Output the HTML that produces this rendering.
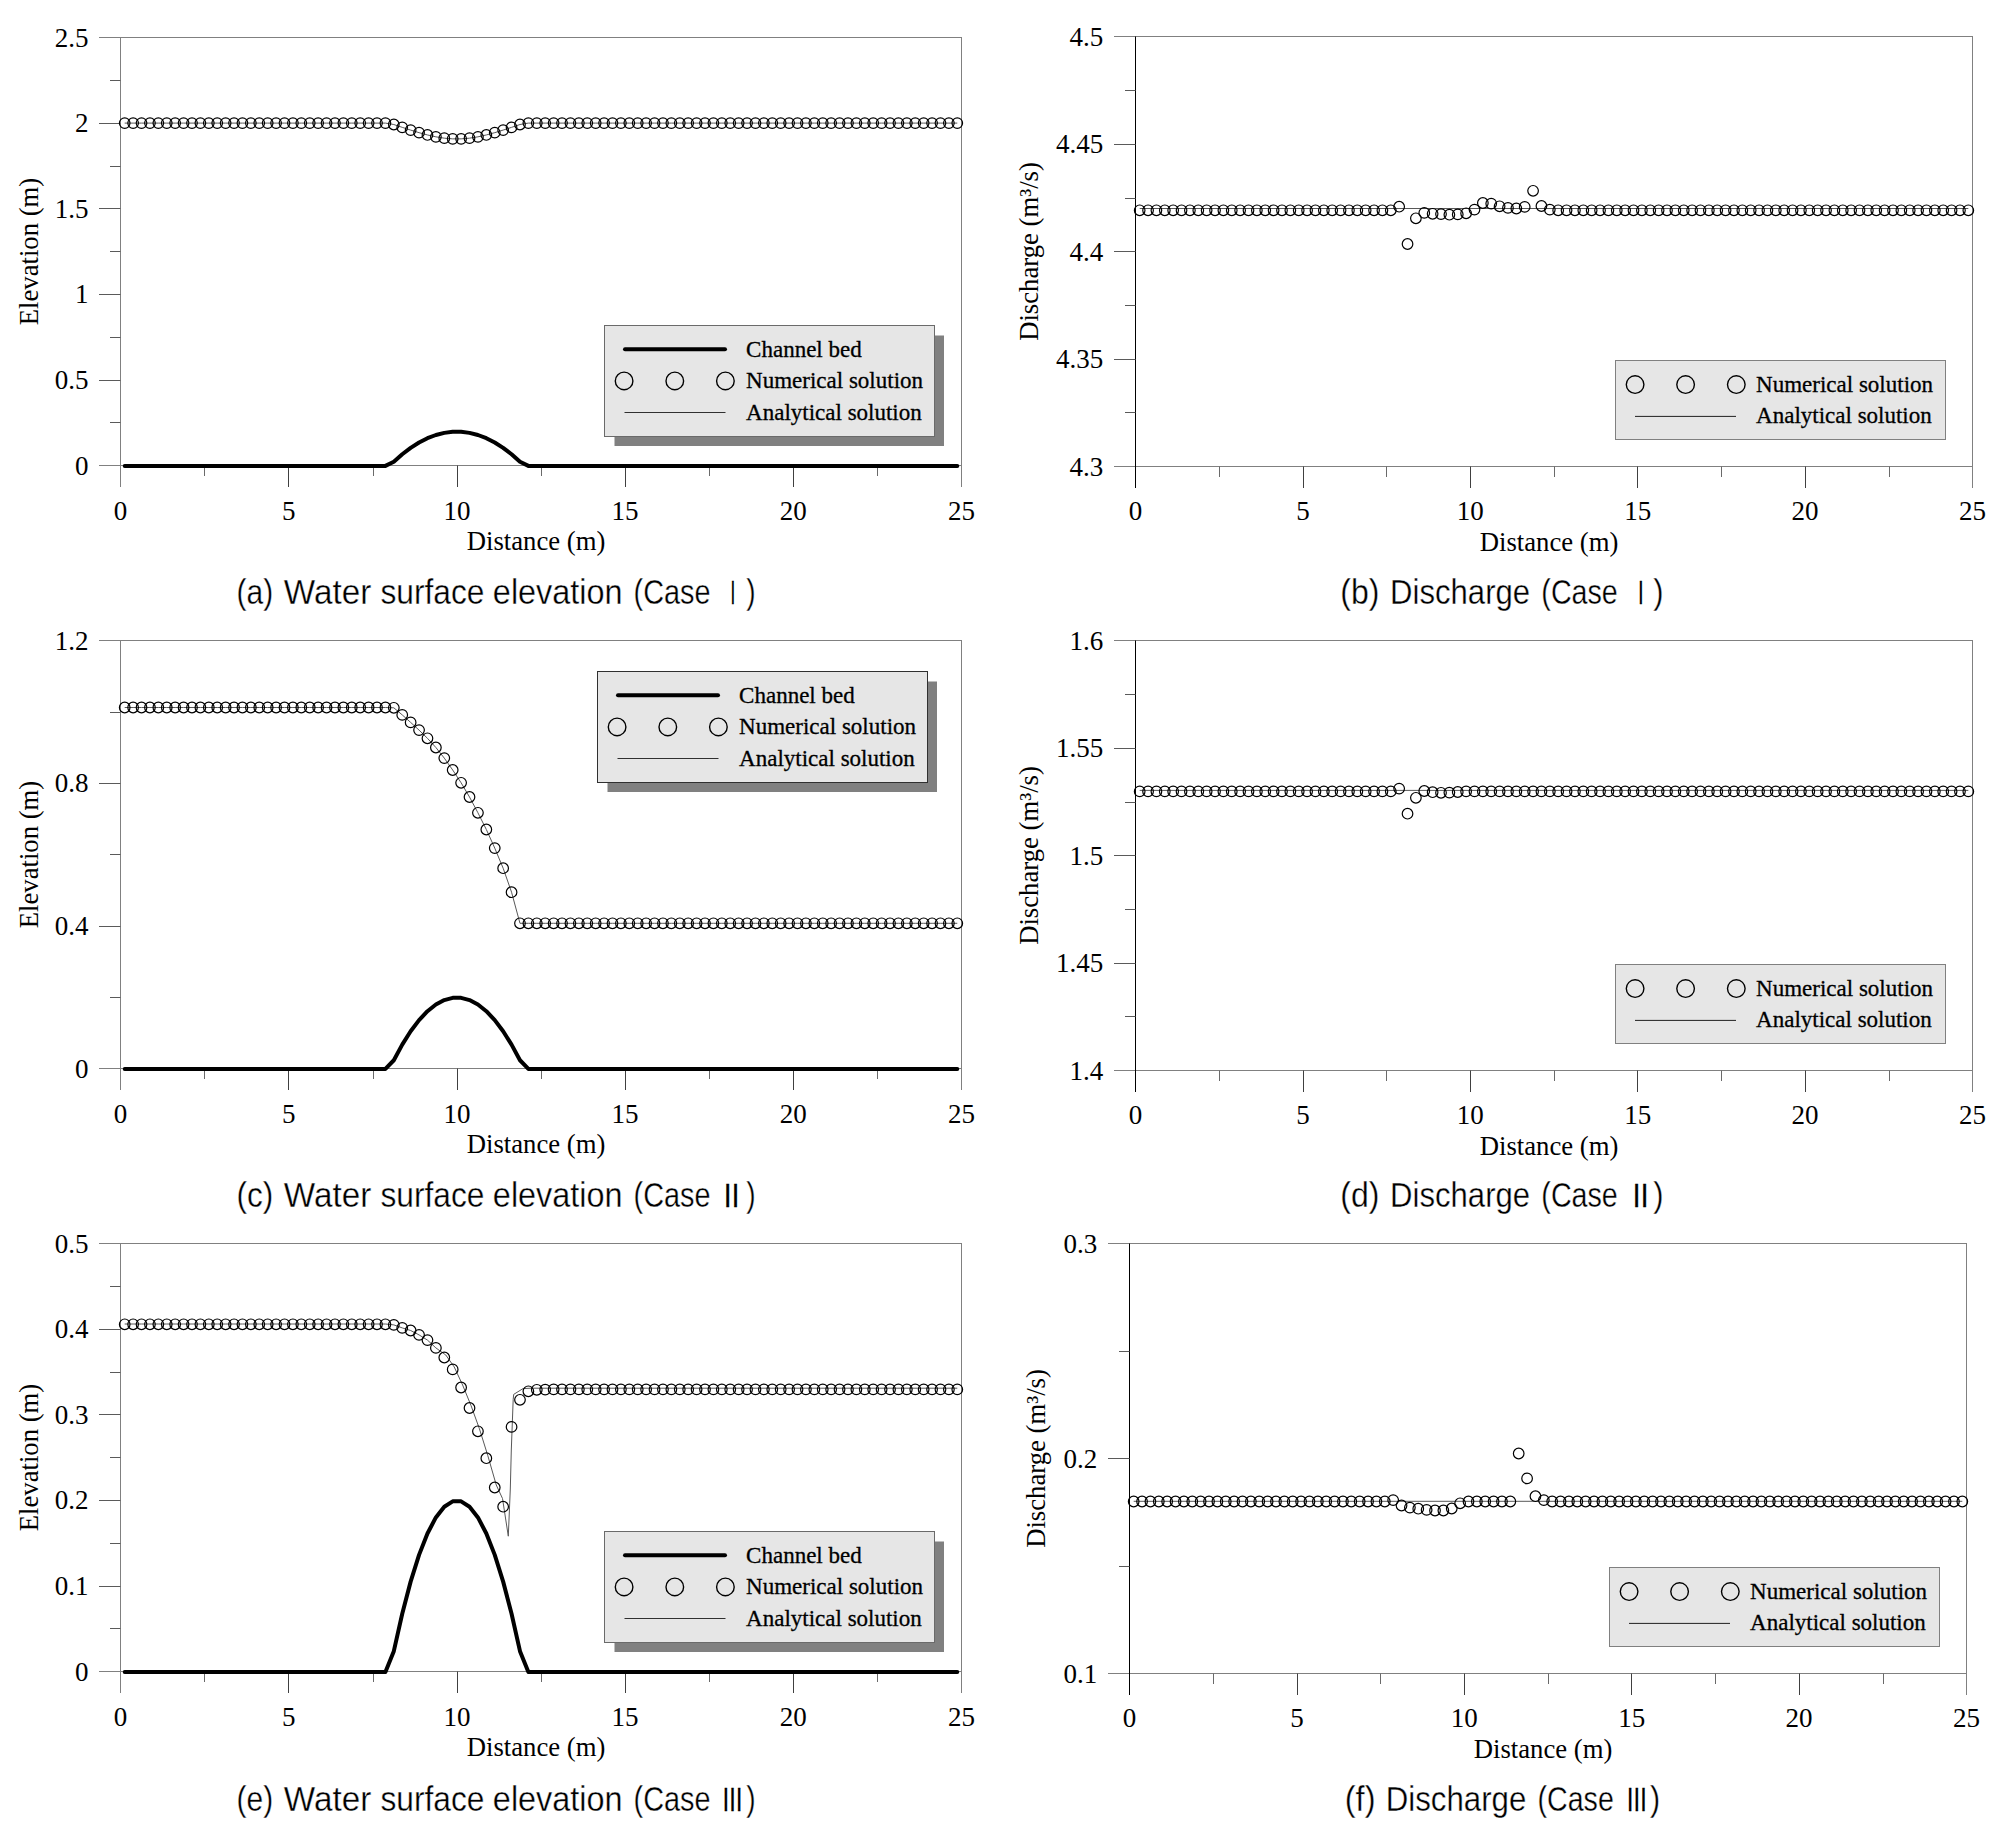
<!DOCTYPE html>
<html lang="en"><head><meta charset="utf-8"><title>Figure</title>
<style>html,body{margin:0;padding:0;background:#fff}svg text{fill:#000}</style></head>
<body>
<svg width="2008" height="1841" viewBox="0 0 2008 1841" style="display:block">
<rect width="2008" height="1841" fill="#fff"/>
<line x1="99" y1="37.5" x2="962" y2="37.5" stroke="#808080" stroke-width="1" />
<line x1="961.5" y1="37.5" x2="961.5" y2="487" stroke="#808080" stroke-width="1" />
<line x1="99" y1="465.5" x2="962" y2="465.5" stroke="#808080" stroke-width="1" />
<line x1="120.5" y1="37.5" x2="120.5" y2="487" stroke="#808080" stroke-width="1" />
<line x1="99" y1="380.5" x2="120.5" y2="380.5" stroke="#5a5a5a" stroke-width="1" />
<line x1="99" y1="294.5" x2="120.5" y2="294.5" stroke="#5a5a5a" stroke-width="1" />
<line x1="99" y1="208.5" x2="120.5" y2="208.5" stroke="#5a5a5a" stroke-width="1" />
<line x1="99" y1="123.5" x2="120.5" y2="123.5" stroke="#5a5a5a" stroke-width="1" />
<line x1="110" y1="422.5" x2="120.5" y2="422.5" stroke="#5a5a5a" stroke-width="1" />
<line x1="110" y1="337.5" x2="120.5" y2="337.5" stroke="#5a5a5a" stroke-width="1" />
<line x1="110" y1="251.5" x2="120.5" y2="251.5" stroke="#5a5a5a" stroke-width="1" />
<line x1="110" y1="166.5" x2="120.5" y2="166.5" stroke="#5a5a5a" stroke-width="1" />
<line x1="110" y1="80.5" x2="120.5" y2="80.5" stroke="#5a5a5a" stroke-width="1" />
<line x1="288.5" y1="465.5" x2="288.5" y2="487" stroke="#404040" stroke-width="1" />
<line x1="457.5" y1="465.5" x2="457.5" y2="487" stroke="#404040" stroke-width="1" />
<line x1="625.5" y1="465.5" x2="625.5" y2="487" stroke="#404040" stroke-width="1" />
<line x1="793.5" y1="465.5" x2="793.5" y2="487" stroke="#404040" stroke-width="1" />
<line x1="204.5" y1="465.5" x2="204.5" y2="476" stroke="#6a6a6a" stroke-width="1" />
<line x1="373.5" y1="465.5" x2="373.5" y2="476" stroke="#6a6a6a" stroke-width="1" />
<line x1="541.5" y1="465.5" x2="541.5" y2="476" stroke="#6a6a6a" stroke-width="1" />
<line x1="709.5" y1="465.5" x2="709.5" y2="476" stroke="#6a6a6a" stroke-width="1" />
<line x1="877.5" y1="465.5" x2="877.5" y2="476" stroke="#6a6a6a" stroke-width="1" />
<text x="88.4" y="474.5" font-size="27.0" text-anchor="end" font-family='"Liberation Serif", serif' >0</text>
<text x="88.4" y="388.9" font-size="27.0" text-anchor="end" font-family='"Liberation Serif", serif' >0.5</text>
<text x="88.4" y="303.3" font-size="27.0" text-anchor="end" font-family='"Liberation Serif", serif' >1</text>
<text x="88.4" y="217.7" font-size="27.0" text-anchor="end" font-family='"Liberation Serif", serif' >1.5</text>
<text x="88.4" y="132.1" font-size="27.0" text-anchor="end" font-family='"Liberation Serif", serif' >2</text>
<text x="88.4" y="46.5" font-size="27.0" text-anchor="end" font-family='"Liberation Serif", serif' >2.5</text>
<text x="120.5" y="520.3" font-size="27.0" text-anchor="middle" font-family='"Liberation Serif", serif' >0</text>
<text x="288.7" y="520.3" font-size="27.0" text-anchor="middle" font-family='"Liberation Serif", serif' >5</text>
<text x="456.9" y="520.3" font-size="27.0" text-anchor="middle" font-family='"Liberation Serif", serif' >10</text>
<text x="625.1" y="520.3" font-size="27.0" text-anchor="middle" font-family='"Liberation Serif", serif' >15</text>
<text x="793.3" y="520.3" font-size="27.0" text-anchor="middle" font-family='"Liberation Serif", serif' >20</text>
<text x="961.5" y="520.3" font-size="27.0" text-anchor="middle" font-family='"Liberation Serif", serif' >25</text>
<text x="536" y="550.3" font-size="26.7" text-anchor="middle" font-family='"Liberation Serif", serif' >Distance (m)</text>
<text transform="translate(37.8 251.5) rotate(-90)" font-size="26.7" text-anchor="middle" font-family='"Liberation Serif", serif'>Elevation (m)</text>
<polyline points="124.7,123.1 133.12,123.1 141.53,123.1 149.94,123.1 158.34,123.1 166.75,123.1 175.16,123.1 183.57,123.1 191.99,123.1 200.39,123.1 208.81,123.1 217.22,123.1 225.62,123.1 234.03,123.1 242.44,123.1 250.85,123.1 259.26,123.1 267.68,123.1 276.09,123.1 284.5,123.1 292.9,123.1 301.31,123.1 309.73,123.1 318.13,123.1 326.54,123.1 334.96,123.1 343.37,123.1 351.77,123.1 360.19,123.1 368.6,123.1 377,123.1 385.42,123.1 393.82,124.52 402.24,127.35 410.64,130.09 419.06,132.67 427.46,134.95 435.88,136.83 444.29,138.17 452.69,138.87 461.11,138.87 469.51,138.17 477.93,136.83 486.33,134.95 494.75,132.67 503.15,130.09 511.56,127.35 519.98,124.52 528.38,123.1 536.8,123.1 545.2,123.1 553.62,123.1 562.02,123.1 570.43,123.1 578.85,123.1 587.25,123.1 595.66,123.1 604.08,123.1 612.49,123.1 620.89,123.1 629.31,123.1 637.72,123.1 646.12,123.1 654.53,123.1 662.95,123.1 671.36,123.1 679.76,123.1 688.17,123.1 696.59,123.1 705,123.1 713.4,123.1 721.82,123.1 730.23,123.1 738.63,123.1 747.04,123.1 755.46,123.1 763.87,123.1 772.27,123.1 780.68,123.1 789.1,123.1 797.5,123.1 805.91,123.1 814.33,123.1 822.74,123.1 831.14,123.1 839.55,123.1 847.97,123.1 856.38,123.1 864.78,123.1 873.2,123.1 881.61,123.1 890.01,123.1 898.42,123.1 906.84,123.1 915.25,123.1 923.65,123.1 932.07,123.1 940.48,123.1 948.88,123.1 957.29,123.1" fill="none" stroke="#585858" stroke-width="1.0" />
<polyline points="124.7,465.9 133.12,465.9 141.53,465.9 149.94,465.9 158.34,465.9 166.75,465.9 175.16,465.9 183.57,465.9 191.99,465.9 200.39,465.9 208.81,465.9 217.22,465.9 225.62,465.9 234.03,465.9 242.44,465.9 250.85,465.9 259.26,465.9 267.68,465.9 276.09,465.9 284.5,465.9 292.9,465.9 301.31,465.9 309.73,465.9 318.13,465.9 326.54,465.9 334.96,465.9 343.37,465.9 351.77,465.9 360.19,465.9 368.6,465.9 377,465.9 385.42,465.9 393.82,461.75 402.24,454.26 410.64,447.84 419.06,442.49 427.46,438.21 435.88,435 444.29,432.86 452.69,431.79 461.11,431.79 469.51,432.86 477.93,435 486.33,438.21 494.75,442.49 503.15,447.84 511.56,454.26 519.98,461.75 528.38,465.9 536.8,465.9 545.2,465.9 553.62,465.9 562.02,465.9 570.43,465.9 578.85,465.9 587.25,465.9 595.66,465.9 604.08,465.9 612.49,465.9 620.89,465.9 629.31,465.9 637.72,465.9 646.12,465.9 654.53,465.9 662.95,465.9 671.36,465.9 679.76,465.9 688.17,465.9 696.59,465.9 705,465.9 713.4,465.9 721.82,465.9 730.23,465.9 738.63,465.9 747.04,465.9 755.46,465.9 763.87,465.9 772.27,465.9 780.68,465.9 789.1,465.9 797.5,465.9 805.91,465.9 814.33,465.9 822.74,465.9 831.14,465.9 839.55,465.9 847.97,465.9 856.38,465.9 864.78,465.9 873.2,465.9 881.61,465.9 890.01,465.9 898.42,465.9 906.84,465.9 915.25,465.9 923.65,465.9 932.07,465.9 940.48,465.9 948.88,465.9 957.29,465.9" fill="none" stroke="#000" stroke-width="4" stroke-linecap="round" stroke-linejoin="round"/>
<g fill="none" stroke="#000" stroke-width="1.2">
<circle cx="124.7" cy="123.1" r="5.3"/>
<circle cx="133.12" cy="123.1" r="5.3"/>
<circle cx="141.53" cy="123.1" r="5.3"/>
<circle cx="149.94" cy="123.1" r="5.3"/>
<circle cx="158.34" cy="123.1" r="5.3"/>
<circle cx="166.75" cy="123.1" r="5.3"/>
<circle cx="175.16" cy="123.1" r="5.3"/>
<circle cx="183.57" cy="123.1" r="5.3"/>
<circle cx="191.99" cy="123.1" r="5.3"/>
<circle cx="200.39" cy="123.1" r="5.3"/>
<circle cx="208.81" cy="123.1" r="5.3"/>
<circle cx="217.22" cy="123.1" r="5.3"/>
<circle cx="225.62" cy="123.1" r="5.3"/>
<circle cx="234.03" cy="123.1" r="5.3"/>
<circle cx="242.44" cy="123.1" r="5.3"/>
<circle cx="250.85" cy="123.1" r="5.3"/>
<circle cx="259.26" cy="123.1" r="5.3"/>
<circle cx="267.68" cy="123.1" r="5.3"/>
<circle cx="276.09" cy="123.1" r="5.3"/>
<circle cx="284.5" cy="123.1" r="5.3"/>
<circle cx="292.9" cy="123.1" r="5.3"/>
<circle cx="301.31" cy="123.1" r="5.3"/>
<circle cx="309.73" cy="123.1" r="5.3"/>
<circle cx="318.13" cy="123.1" r="5.3"/>
<circle cx="326.54" cy="123.1" r="5.3"/>
<circle cx="334.96" cy="123.1" r="5.3"/>
<circle cx="343.37" cy="123.1" r="5.3"/>
<circle cx="351.77" cy="123.1" r="5.3"/>
<circle cx="360.19" cy="123.1" r="5.3"/>
<circle cx="368.6" cy="123.1" r="5.3"/>
<circle cx="377" cy="123.1" r="5.3"/>
<circle cx="385.42" cy="123.1" r="5.3"/>
<circle cx="393.82" cy="124.52" r="5.3"/>
<circle cx="402.24" cy="127.35" r="5.3"/>
<circle cx="410.64" cy="130.09" r="5.3"/>
<circle cx="419.06" cy="132.67" r="5.3"/>
<circle cx="427.46" cy="134.95" r="5.3"/>
<circle cx="435.88" cy="136.83" r="5.3"/>
<circle cx="444.29" cy="138.17" r="5.3"/>
<circle cx="452.69" cy="138.87" r="5.3"/>
<circle cx="461.11" cy="138.87" r="5.3"/>
<circle cx="469.51" cy="138.17" r="5.3"/>
<circle cx="477.93" cy="136.83" r="5.3"/>
<circle cx="486.33" cy="134.95" r="5.3"/>
<circle cx="494.75" cy="132.67" r="5.3"/>
<circle cx="503.15" cy="130.09" r="5.3"/>
<circle cx="511.56" cy="127.35" r="5.3"/>
<circle cx="519.98" cy="124.52" r="5.3"/>
<circle cx="528.38" cy="123.1" r="5.3"/>
<circle cx="536.8" cy="123.1" r="5.3"/>
<circle cx="545.2" cy="123.1" r="5.3"/>
<circle cx="553.62" cy="123.1" r="5.3"/>
<circle cx="562.02" cy="123.1" r="5.3"/>
<circle cx="570.43" cy="123.1" r="5.3"/>
<circle cx="578.85" cy="123.1" r="5.3"/>
<circle cx="587.25" cy="123.1" r="5.3"/>
<circle cx="595.66" cy="123.1" r="5.3"/>
<circle cx="604.08" cy="123.1" r="5.3"/>
<circle cx="612.49" cy="123.1" r="5.3"/>
<circle cx="620.89" cy="123.1" r="5.3"/>
<circle cx="629.31" cy="123.1" r="5.3"/>
<circle cx="637.72" cy="123.1" r="5.3"/>
<circle cx="646.12" cy="123.1" r="5.3"/>
<circle cx="654.53" cy="123.1" r="5.3"/>
<circle cx="662.95" cy="123.1" r="5.3"/>
<circle cx="671.36" cy="123.1" r="5.3"/>
<circle cx="679.76" cy="123.1" r="5.3"/>
<circle cx="688.17" cy="123.1" r="5.3"/>
<circle cx="696.59" cy="123.1" r="5.3"/>
<circle cx="705" cy="123.1" r="5.3"/>
<circle cx="713.4" cy="123.1" r="5.3"/>
<circle cx="721.82" cy="123.1" r="5.3"/>
<circle cx="730.23" cy="123.1" r="5.3"/>
<circle cx="738.63" cy="123.1" r="5.3"/>
<circle cx="747.04" cy="123.1" r="5.3"/>
<circle cx="755.46" cy="123.1" r="5.3"/>
<circle cx="763.87" cy="123.1" r="5.3"/>
<circle cx="772.27" cy="123.1" r="5.3"/>
<circle cx="780.68" cy="123.1" r="5.3"/>
<circle cx="789.1" cy="123.1" r="5.3"/>
<circle cx="797.5" cy="123.1" r="5.3"/>
<circle cx="805.91" cy="123.1" r="5.3"/>
<circle cx="814.33" cy="123.1" r="5.3"/>
<circle cx="822.74" cy="123.1" r="5.3"/>
<circle cx="831.14" cy="123.1" r="5.3"/>
<circle cx="839.55" cy="123.1" r="5.3"/>
<circle cx="847.97" cy="123.1" r="5.3"/>
<circle cx="856.38" cy="123.1" r="5.3"/>
<circle cx="864.78" cy="123.1" r="5.3"/>
<circle cx="873.2" cy="123.1" r="5.3"/>
<circle cx="881.61" cy="123.1" r="5.3"/>
<circle cx="890.01" cy="123.1" r="5.3"/>
<circle cx="898.42" cy="123.1" r="5.3"/>
<circle cx="906.84" cy="123.1" r="5.3"/>
<circle cx="915.25" cy="123.1" r="5.3"/>
<circle cx="923.65" cy="123.1" r="5.3"/>
<circle cx="932.07" cy="123.1" r="5.3"/>
<circle cx="940.48" cy="123.1" r="5.3"/>
<circle cx="948.88" cy="123.1" r="5.3"/>
<circle cx="957.29" cy="123.1" r="5.3"/>
</g>
<rect x="614.5" y="335.5" width="329.5" height="110.5" fill="#808080"/>
<rect x="604.5" y="325.5" width="330" height="111" fill="#e6e6e6" stroke="#6a6a6a" stroke-width="1"/>
<line x1="625" y1="349.3" x2="725" y2="349.3" stroke="#000" stroke-width="4" stroke-linecap="round"/>
<g fill="none" stroke="#000" stroke-width="1.4">
<circle cx="624.1" cy="380.9" r="8.8"/>
<circle cx="674.8" cy="380.9" r="8.8"/>
<circle cx="725.4" cy="380.9" r="8.8"/>
</g>
<line x1="624.5" y1="412.5" x2="725.5" y2="412.5" stroke="#303030" stroke-width="1" />
<text x="746.1" y="356.7" font-size="23.0" text-anchor="start" font-family='"Liberation Serif", serif' stroke="#000" stroke-width="0.3">Channel bed</text>
<text x="746.1" y="388.4" font-size="23.0" text-anchor="start" font-family='"Liberation Serif", serif' stroke="#000" stroke-width="0.3">Numerical solution</text>
<text x="746.1" y="419.7" font-size="23.0" text-anchor="start" font-family='"Liberation Serif", serif' stroke="#000" stroke-width="0.3">Analytical solution</text>
<line x1="1114" y1="36.5" x2="1973" y2="36.5" stroke="#808080" stroke-width="1" />
<line x1="1972.5" y1="36.5" x2="1972.5" y2="488" stroke="#808080" stroke-width="1" />
<line x1="1114" y1="466.5" x2="1973" y2="466.5" stroke="#808080" stroke-width="1" />
<line x1="1135.5" y1="36.5" x2="1135.5" y2="488" stroke="#000" stroke-width="1" />
<line x1="1114" y1="359.5" x2="1135.5" y2="359.5" stroke="#5a5a5a" stroke-width="1" />
<line x1="1114" y1="251.5" x2="1135.5" y2="251.5" stroke="#5a5a5a" stroke-width="1" />
<line x1="1114" y1="144.5" x2="1135.5" y2="144.5" stroke="#5a5a5a" stroke-width="1" />
<line x1="1125" y1="412.5" x2="1135.5" y2="412.5" stroke="#5a5a5a" stroke-width="1" />
<line x1="1125" y1="305.5" x2="1135.5" y2="305.5" stroke="#5a5a5a" stroke-width="1" />
<line x1="1125" y1="198.5" x2="1135.5" y2="198.5" stroke="#5a5a5a" stroke-width="1" />
<line x1="1125" y1="90.5" x2="1135.5" y2="90.5" stroke="#5a5a5a" stroke-width="1" />
<line x1="1303.5" y1="466.5" x2="1303.5" y2="488" stroke="#404040" stroke-width="1" />
<line x1="1470.5" y1="466.5" x2="1470.5" y2="488" stroke="#404040" stroke-width="1" />
<line x1="1637.5" y1="466.5" x2="1637.5" y2="488" stroke="#404040" stroke-width="1" />
<line x1="1805.5" y1="466.5" x2="1805.5" y2="488" stroke="#404040" stroke-width="1" />
<line x1="1219.5" y1="466.5" x2="1219.5" y2="477" stroke="#6a6a6a" stroke-width="1" />
<line x1="1386.5" y1="466.5" x2="1386.5" y2="477" stroke="#6a6a6a" stroke-width="1" />
<line x1="1554.5" y1="466.5" x2="1554.5" y2="477" stroke="#6a6a6a" stroke-width="1" />
<line x1="1721.5" y1="466.5" x2="1721.5" y2="477" stroke="#6a6a6a" stroke-width="1" />
<line x1="1889.5" y1="466.5" x2="1889.5" y2="477" stroke="#6a6a6a" stroke-width="1" />
<text x="1103.2" y="475.5" font-size="27.0" text-anchor="end" font-family='"Liberation Serif", serif' >4.3</text>
<text x="1103.2" y="368" font-size="27.0" text-anchor="end" font-family='"Liberation Serif", serif' >4.35</text>
<text x="1103.2" y="260.5" font-size="27.0" text-anchor="end" font-family='"Liberation Serif", serif' >4.4</text>
<text x="1103.2" y="153" font-size="27.0" text-anchor="end" font-family='"Liberation Serif", serif' >4.45</text>
<text x="1103.2" y="45.5" font-size="27.0" text-anchor="end" font-family='"Liberation Serif", serif' >4.5</text>
<text x="1135.5" y="520.3" font-size="27.0" text-anchor="middle" font-family='"Liberation Serif", serif' >0</text>
<text x="1302.9" y="520.3" font-size="27.0" text-anchor="middle" font-family='"Liberation Serif", serif' >5</text>
<text x="1470.3" y="520.3" font-size="27.0" text-anchor="middle" font-family='"Liberation Serif", serif' >10</text>
<text x="1637.7" y="520.3" font-size="27.0" text-anchor="middle" font-family='"Liberation Serif", serif' >15</text>
<text x="1805.1" y="520.3" font-size="27.0" text-anchor="middle" font-family='"Liberation Serif", serif' >20</text>
<text x="1972.5" y="520.3" font-size="27.0" text-anchor="middle" font-family='"Liberation Serif", serif' >25</text>
<text x="1549" y="551" font-size="26.7" text-anchor="middle" font-family='"Liberation Serif", serif' >Distance (m)</text>
<text transform="translate(1038 251.5) rotate(-90)" font-size="26.7" text-anchor="middle" font-family='"Liberation Serif", serif'>Discharge (m³/s)</text>
<polyline points="1139.68,208.5 1968.32,208.5" fill="none" stroke="#585858" stroke-width="1.0" />
<g fill="none" stroke="#000" stroke-width="1.2">
<circle cx="1139.68" cy="210.3" r="5.3"/>
<circle cx="1148.06" cy="210.3" r="5.3"/>
<circle cx="1156.42" cy="210.3" r="5.3"/>
<circle cx="1164.8" cy="210.3" r="5.3"/>
<circle cx="1173.16" cy="210.3" r="5.3"/>
<circle cx="1181.54" cy="210.3" r="5.3"/>
<circle cx="1189.9" cy="210.3" r="5.3"/>
<circle cx="1198.28" cy="210.3" r="5.3"/>
<circle cx="1206.64" cy="210.3" r="5.3"/>
<circle cx="1215.02" cy="210.3" r="5.3"/>
<circle cx="1223.38" cy="210.3" r="5.3"/>
<circle cx="1231.76" cy="210.3" r="5.3"/>
<circle cx="1240.12" cy="210.3" r="5.3"/>
<circle cx="1248.49" cy="210.3" r="5.3"/>
<circle cx="1256.87" cy="210.3" r="5.3"/>
<circle cx="1265.24" cy="210.3" r="5.3"/>
<circle cx="1273.61" cy="210.3" r="5.3"/>
<circle cx="1281.97" cy="210.3" r="5.3"/>
<circle cx="1290.35" cy="210.3" r="5.3"/>
<circle cx="1298.71" cy="210.3" r="5.3"/>
<circle cx="1307.09" cy="210.3" r="5.3"/>
<circle cx="1315.45" cy="210.3" r="5.3"/>
<circle cx="1323.83" cy="210.3" r="5.3"/>
<circle cx="1332.19" cy="210.3" r="5.3"/>
<circle cx="1340.57" cy="210.3" r="5.3"/>
<circle cx="1348.93" cy="210.3" r="5.3"/>
<circle cx="1357.31" cy="210.3" r="5.3"/>
<circle cx="1365.67" cy="210.3" r="5.3"/>
<circle cx="1374.05" cy="210.3" r="5.3"/>
<circle cx="1382.41" cy="210.3" r="5.3"/>
<circle cx="1390.79" cy="210.3" r="5.3"/>
<circle cx="1399.15" cy="206.7" r="5.3"/>
<circle cx="1407.53" cy="244" r="5.3"/>
<circle cx="1415.89" cy="218.3" r="5.3"/>
<circle cx="1424.26" cy="212.9" r="5.3"/>
<circle cx="1432.63" cy="213.8" r="5.3"/>
<circle cx="1441.01" cy="214.1" r="5.3"/>
<circle cx="1449.38" cy="214.7" r="5.3"/>
<circle cx="1457.74" cy="214.4" r="5.3"/>
<circle cx="1466.12" cy="213.3" r="5.3"/>
<circle cx="1474.49" cy="209.6" r="5.3"/>
<circle cx="1482.86" cy="203" r="5.3"/>
<circle cx="1491.22" cy="203.6" r="5.3"/>
<circle cx="1499.6" cy="206.3" r="5.3"/>
<circle cx="1507.96" cy="207.9" r="5.3"/>
<circle cx="1516.34" cy="208.5" r="5.3"/>
<circle cx="1524.7" cy="206.9" r="5.3"/>
<circle cx="1533.08" cy="190.8" r="5.3"/>
<circle cx="1541.44" cy="206" r="5.3"/>
<circle cx="1549.82" cy="209.6" r="5.3"/>
<circle cx="1558.18" cy="210.3" r="5.3"/>
<circle cx="1566.56" cy="210.3" r="5.3"/>
<circle cx="1574.92" cy="210.3" r="5.3"/>
<circle cx="1583.3" cy="210.3" r="5.3"/>
<circle cx="1591.66" cy="210.3" r="5.3"/>
<circle cx="1600.04" cy="210.3" r="5.3"/>
<circle cx="1608.4" cy="210.3" r="5.3"/>
<circle cx="1616.78" cy="210.3" r="5.3"/>
<circle cx="1625.14" cy="210.3" r="5.3"/>
<circle cx="1633.51" cy="210.3" r="5.3"/>
<circle cx="1641.88" cy="210.3" r="5.3"/>
<circle cx="1650.26" cy="210.3" r="5.3"/>
<circle cx="1658.62" cy="210.3" r="5.3"/>
<circle cx="1666.99" cy="210.3" r="5.3"/>
<circle cx="1675.37" cy="210.3" r="5.3"/>
<circle cx="1683.74" cy="210.3" r="5.3"/>
<circle cx="1692.11" cy="210.3" r="5.3"/>
<circle cx="1700.47" cy="210.3" r="5.3"/>
<circle cx="1708.85" cy="210.3" r="5.3"/>
<circle cx="1717.22" cy="210.3" r="5.3"/>
<circle cx="1725.59" cy="210.3" r="5.3"/>
<circle cx="1733.95" cy="210.3" r="5.3"/>
<circle cx="1742.33" cy="210.3" r="5.3"/>
<circle cx="1750.7" cy="210.3" r="5.3"/>
<circle cx="1759.07" cy="210.3" r="5.3"/>
<circle cx="1767.43" cy="210.3" r="5.3"/>
<circle cx="1775.8" cy="210.3" r="5.3"/>
<circle cx="1784.17" cy="210.3" r="5.3"/>
<circle cx="1792.55" cy="210.3" r="5.3"/>
<circle cx="1800.91" cy="210.3" r="5.3"/>
<circle cx="1809.28" cy="210.3" r="5.3"/>
<circle cx="1817.65" cy="210.3" r="5.3"/>
<circle cx="1826.03" cy="210.3" r="5.3"/>
<circle cx="1834.39" cy="210.3" r="5.3"/>
<circle cx="1842.76" cy="210.3" r="5.3"/>
<circle cx="1851.13" cy="210.3" r="5.3"/>
<circle cx="1859.51" cy="210.3" r="5.3"/>
<circle cx="1867.88" cy="210.3" r="5.3"/>
<circle cx="1876.24" cy="210.3" r="5.3"/>
<circle cx="1884.62" cy="210.3" r="5.3"/>
<circle cx="1892.99" cy="210.3" r="5.3"/>
<circle cx="1901.36" cy="210.3" r="5.3"/>
<circle cx="1909.72" cy="210.3" r="5.3"/>
<circle cx="1918.1" cy="210.3" r="5.3"/>
<circle cx="1926.47" cy="210.3" r="5.3"/>
<circle cx="1934.84" cy="210.3" r="5.3"/>
<circle cx="1943.2" cy="210.3" r="5.3"/>
<circle cx="1951.58" cy="210.3" r="5.3"/>
<circle cx="1959.95" cy="210.3" r="5.3"/>
<circle cx="1968.32" cy="210.3" r="5.3"/>
</g>
<rect x="1615.5" y="360.5" width="330" height="79" fill="#e6e6e6" stroke="#808080" stroke-width="1"/>
<g fill="none" stroke="#000" stroke-width="1.4">
<circle cx="1635.1" cy="384.6" r="8.8"/>
<circle cx="1685.6" cy="384.6" r="8.8"/>
<circle cx="1736.3" cy="384.6" r="8.8"/>
</g>
<line x1="1635" y1="416.4" x2="1736" y2="416.4" stroke="#202020" stroke-width="1" />
<text x="1756.1" y="392.1" font-size="23.0" text-anchor="start" font-family='"Liberation Serif", serif' stroke="#000" stroke-width="0.3">Numerical solution</text>
<text x="1756.1" y="423.4" font-size="23.0" text-anchor="start" font-family='"Liberation Serif", serif' stroke="#000" stroke-width="0.3">Analytical solution</text>
<line x1="99" y1="640.5" x2="962" y2="640.5" stroke="#808080" stroke-width="1" />
<line x1="961.5" y1="640.5" x2="961.5" y2="1090" stroke="#808080" stroke-width="1" />
<line x1="99" y1="1068.5" x2="962" y2="1068.5" stroke="#808080" stroke-width="1" />
<line x1="120.5" y1="640.5" x2="120.5" y2="1090" stroke="#808080" stroke-width="1" />
<line x1="99" y1="926.5" x2="120.5" y2="926.5" stroke="#5a5a5a" stroke-width="1" />
<line x1="99" y1="783.5" x2="120.5" y2="783.5" stroke="#5a5a5a" stroke-width="1" />
<line x1="110" y1="997.5" x2="120.5" y2="997.5" stroke="#5a5a5a" stroke-width="1" />
<line x1="110" y1="854.5" x2="120.5" y2="854.5" stroke="#5a5a5a" stroke-width="1" />
<line x1="110" y1="712.5" x2="120.5" y2="712.5" stroke="#5a5a5a" stroke-width="1" />
<line x1="288.5" y1="1068.5" x2="288.5" y2="1090" stroke="#404040" stroke-width="1" />
<line x1="457.5" y1="1068.5" x2="457.5" y2="1090" stroke="#404040" stroke-width="1" />
<line x1="625.5" y1="1068.5" x2="625.5" y2="1090" stroke="#404040" stroke-width="1" />
<line x1="793.5" y1="1068.5" x2="793.5" y2="1090" stroke="#404040" stroke-width="1" />
<line x1="204.5" y1="1068.5" x2="204.5" y2="1079" stroke="#6a6a6a" stroke-width="1" />
<line x1="373.5" y1="1068.5" x2="373.5" y2="1079" stroke="#6a6a6a" stroke-width="1" />
<line x1="541.5" y1="1068.5" x2="541.5" y2="1079" stroke="#6a6a6a" stroke-width="1" />
<line x1="709.5" y1="1068.5" x2="709.5" y2="1079" stroke="#6a6a6a" stroke-width="1" />
<line x1="877.5" y1="1068.5" x2="877.5" y2="1079" stroke="#6a6a6a" stroke-width="1" />
<text x="88.4" y="1077.5" font-size="27.0" text-anchor="end" font-family='"Liberation Serif", serif' >0</text>
<text x="88.4" y="934.83" font-size="27.0" text-anchor="end" font-family='"Liberation Serif", serif' >0.4</text>
<text x="88.4" y="792.17" font-size="27.0" text-anchor="end" font-family='"Liberation Serif", serif' >0.8</text>
<text x="88.4" y="649.5" font-size="27.0" text-anchor="end" font-family='"Liberation Serif", serif' >1.2</text>
<text x="120.5" y="1123.3" font-size="27.0" text-anchor="middle" font-family='"Liberation Serif", serif' >0</text>
<text x="288.7" y="1123.3" font-size="27.0" text-anchor="middle" font-family='"Liberation Serif", serif' >5</text>
<text x="456.9" y="1123.3" font-size="27.0" text-anchor="middle" font-family='"Liberation Serif", serif' >10</text>
<text x="625.1" y="1123.3" font-size="27.0" text-anchor="middle" font-family='"Liberation Serif", serif' >15</text>
<text x="793.3" y="1123.3" font-size="27.0" text-anchor="middle" font-family='"Liberation Serif", serif' >20</text>
<text x="961.5" y="1123.3" font-size="27.0" text-anchor="middle" font-family='"Liberation Serif", serif' >25</text>
<text x="536" y="1153.3" font-size="26.7" text-anchor="middle" font-family='"Liberation Serif", serif' >Distance (m)</text>
<text transform="translate(37.8 854.5) rotate(-90)" font-size="26.7" text-anchor="middle" font-family='"Liberation Serif", serif'>Elevation (m)</text>
<polyline points="124.7,707.5 133.12,707.5 141.53,707.5 149.94,707.5 158.34,707.5 166.75,707.5 175.16,707.5 183.57,707.5 191.99,707.5 200.39,707.5 208.81,707.5 217.22,707.5 225.62,707.5 234.03,707.5 242.44,707.5 250.85,707.5 259.26,707.5 267.68,707.5 276.09,707.5 284.5,707.5 292.9,707.5 301.31,707.5 309.73,707.5 318.13,707.5 326.54,707.5 334.96,707.5 343.37,707.5 351.77,707.5 360.19,707.5 368.6,707.5 377,707.5 385.42,707.5 393.82,707.8 402.24,714.9 410.64,722.4 419.06,730.1 427.46,738.3 435.88,747.5 444.29,758.1 452.69,770 461.11,782.8 469.51,797 477.93,812.8 486.33,829.5 494.75,848.1 503.15,868.2 511.56,892.2 519.98,923.3 528.38,923.3 536.8,923.3 545.2,923.3 553.62,923.3 562.02,923.3 570.43,923.3 578.85,923.3 587.25,923.3 595.66,923.3 604.08,923.3 612.49,923.3 620.89,923.3 629.31,923.3 637.72,923.3 646.12,923.3 654.53,923.3 662.95,923.3 671.36,923.3 679.76,923.3 688.17,923.3 696.59,923.3 705,923.3 713.4,923.3 721.82,923.3 730.23,923.3 738.63,923.3 747.04,923.3 755.46,923.3 763.87,923.3 772.27,923.3 780.68,923.3 789.1,923.3 797.5,923.3 805.91,923.3 814.33,923.3 822.74,923.3 831.14,923.3 839.55,923.3 847.97,923.3 856.38,923.3 864.78,923.3 873.2,923.3 881.61,923.3 890.01,923.3 898.42,923.3 906.84,923.3 915.25,923.3 923.65,923.3 932.07,923.3 940.48,923.3 948.88,923.3 957.29,923.3" fill="none" stroke="#585858" stroke-width="1.0" />
<polyline points="124.7,1068.9 133.12,1068.9 141.53,1068.9 149.94,1068.9 158.34,1068.9 166.75,1068.9 175.16,1068.9 183.57,1068.9 191.99,1068.9 200.39,1068.9 208.81,1068.9 217.22,1068.9 225.62,1068.9 234.03,1068.9 242.44,1068.9 250.85,1068.9 259.26,1068.9 267.68,1068.9 276.09,1068.9 284.5,1068.9 292.9,1068.9 301.31,1068.9 309.73,1068.9 318.13,1068.9 326.54,1068.9 334.96,1068.9 343.37,1068.9 351.77,1068.9 360.19,1068.9 368.6,1068.9 377,1068.9 385.42,1068.9 393.82,1060.26 402.24,1044.66 410.64,1031.28 419.06,1020.14 427.46,1011.22 435.88,1004.53 444.29,1000.07 452.69,997.85 461.11,997.85 469.51,1000.07 477.93,1004.53 486.33,1011.22 494.75,1020.14 503.15,1031.28 511.56,1044.66 519.98,1060.26 528.38,1068.9 536.8,1068.9 545.2,1068.9 553.62,1068.9 562.02,1068.9 570.43,1068.9 578.85,1068.9 587.25,1068.9 595.66,1068.9 604.08,1068.9 612.49,1068.9 620.89,1068.9 629.31,1068.9 637.72,1068.9 646.12,1068.9 654.53,1068.9 662.95,1068.9 671.36,1068.9 679.76,1068.9 688.17,1068.9 696.59,1068.9 705,1068.9 713.4,1068.9 721.82,1068.9 730.23,1068.9 738.63,1068.9 747.04,1068.9 755.46,1068.9 763.87,1068.9 772.27,1068.9 780.68,1068.9 789.1,1068.9 797.5,1068.9 805.91,1068.9 814.33,1068.9 822.74,1068.9 831.14,1068.9 839.55,1068.9 847.97,1068.9 856.38,1068.9 864.78,1068.9 873.2,1068.9 881.61,1068.9 890.01,1068.9 898.42,1068.9 906.84,1068.9 915.25,1068.9 923.65,1068.9 932.07,1068.9 940.48,1068.9 948.88,1068.9 957.29,1068.9" fill="none" stroke="#000" stroke-width="4" stroke-linecap="round" stroke-linejoin="round"/>
<g fill="none" stroke="#000" stroke-width="1.2">
<circle cx="124.7" cy="707.5" r="5.3"/>
<circle cx="133.12" cy="707.5" r="5.3"/>
<circle cx="141.53" cy="707.5" r="5.3"/>
<circle cx="149.94" cy="707.5" r="5.3"/>
<circle cx="158.34" cy="707.5" r="5.3"/>
<circle cx="166.75" cy="707.5" r="5.3"/>
<circle cx="175.16" cy="707.5" r="5.3"/>
<circle cx="183.57" cy="707.5" r="5.3"/>
<circle cx="191.99" cy="707.5" r="5.3"/>
<circle cx="200.39" cy="707.5" r="5.3"/>
<circle cx="208.81" cy="707.5" r="5.3"/>
<circle cx="217.22" cy="707.5" r="5.3"/>
<circle cx="225.62" cy="707.5" r="5.3"/>
<circle cx="234.03" cy="707.5" r="5.3"/>
<circle cx="242.44" cy="707.5" r="5.3"/>
<circle cx="250.85" cy="707.5" r="5.3"/>
<circle cx="259.26" cy="707.5" r="5.3"/>
<circle cx="267.68" cy="707.5" r="5.3"/>
<circle cx="276.09" cy="707.5" r="5.3"/>
<circle cx="284.5" cy="707.5" r="5.3"/>
<circle cx="292.9" cy="707.5" r="5.3"/>
<circle cx="301.31" cy="707.5" r="5.3"/>
<circle cx="309.73" cy="707.5" r="5.3"/>
<circle cx="318.13" cy="707.5" r="5.3"/>
<circle cx="326.54" cy="707.5" r="5.3"/>
<circle cx="334.96" cy="707.5" r="5.3"/>
<circle cx="343.37" cy="707.5" r="5.3"/>
<circle cx="351.77" cy="707.5" r="5.3"/>
<circle cx="360.19" cy="707.5" r="5.3"/>
<circle cx="368.6" cy="707.5" r="5.3"/>
<circle cx="377" cy="707.5" r="5.3"/>
<circle cx="385.42" cy="707.5" r="5.3"/>
<circle cx="393.82" cy="707.8" r="5.3"/>
<circle cx="402.24" cy="714.9" r="5.3"/>
<circle cx="410.64" cy="722.4" r="5.3"/>
<circle cx="419.06" cy="730.1" r="5.3"/>
<circle cx="427.46" cy="738.3" r="5.3"/>
<circle cx="435.88" cy="747.5" r="5.3"/>
<circle cx="444.29" cy="758.1" r="5.3"/>
<circle cx="452.69" cy="770" r="5.3"/>
<circle cx="461.11" cy="782.8" r="5.3"/>
<circle cx="469.51" cy="797" r="5.3"/>
<circle cx="477.93" cy="812.8" r="5.3"/>
<circle cx="486.33" cy="829.5" r="5.3"/>
<circle cx="494.75" cy="848.1" r="5.3"/>
<circle cx="503.15" cy="868.2" r="5.3"/>
<circle cx="511.56" cy="892.2" r="5.3"/>
<circle cx="519.98" cy="923.3" r="5.3"/>
<circle cx="528.38" cy="923.3" r="5.3"/>
<circle cx="536.8" cy="923.3" r="5.3"/>
<circle cx="545.2" cy="923.3" r="5.3"/>
<circle cx="553.62" cy="923.3" r="5.3"/>
<circle cx="562.02" cy="923.3" r="5.3"/>
<circle cx="570.43" cy="923.3" r="5.3"/>
<circle cx="578.85" cy="923.3" r="5.3"/>
<circle cx="587.25" cy="923.3" r="5.3"/>
<circle cx="595.66" cy="923.3" r="5.3"/>
<circle cx="604.08" cy="923.3" r="5.3"/>
<circle cx="612.49" cy="923.3" r="5.3"/>
<circle cx="620.89" cy="923.3" r="5.3"/>
<circle cx="629.31" cy="923.3" r="5.3"/>
<circle cx="637.72" cy="923.3" r="5.3"/>
<circle cx="646.12" cy="923.3" r="5.3"/>
<circle cx="654.53" cy="923.3" r="5.3"/>
<circle cx="662.95" cy="923.3" r="5.3"/>
<circle cx="671.36" cy="923.3" r="5.3"/>
<circle cx="679.76" cy="923.3" r="5.3"/>
<circle cx="688.17" cy="923.3" r="5.3"/>
<circle cx="696.59" cy="923.3" r="5.3"/>
<circle cx="705" cy="923.3" r="5.3"/>
<circle cx="713.4" cy="923.3" r="5.3"/>
<circle cx="721.82" cy="923.3" r="5.3"/>
<circle cx="730.23" cy="923.3" r="5.3"/>
<circle cx="738.63" cy="923.3" r="5.3"/>
<circle cx="747.04" cy="923.3" r="5.3"/>
<circle cx="755.46" cy="923.3" r="5.3"/>
<circle cx="763.87" cy="923.3" r="5.3"/>
<circle cx="772.27" cy="923.3" r="5.3"/>
<circle cx="780.68" cy="923.3" r="5.3"/>
<circle cx="789.1" cy="923.3" r="5.3"/>
<circle cx="797.5" cy="923.3" r="5.3"/>
<circle cx="805.91" cy="923.3" r="5.3"/>
<circle cx="814.33" cy="923.3" r="5.3"/>
<circle cx="822.74" cy="923.3" r="5.3"/>
<circle cx="831.14" cy="923.3" r="5.3"/>
<circle cx="839.55" cy="923.3" r="5.3"/>
<circle cx="847.97" cy="923.3" r="5.3"/>
<circle cx="856.38" cy="923.3" r="5.3"/>
<circle cx="864.78" cy="923.3" r="5.3"/>
<circle cx="873.2" cy="923.3" r="5.3"/>
<circle cx="881.61" cy="923.3" r="5.3"/>
<circle cx="890.01" cy="923.3" r="5.3"/>
<circle cx="898.42" cy="923.3" r="5.3"/>
<circle cx="906.84" cy="923.3" r="5.3"/>
<circle cx="915.25" cy="923.3" r="5.3"/>
<circle cx="923.65" cy="923.3" r="5.3"/>
<circle cx="932.07" cy="923.3" r="5.3"/>
<circle cx="940.48" cy="923.3" r="5.3"/>
<circle cx="948.88" cy="923.3" r="5.3"/>
<circle cx="957.29" cy="923.3" r="5.3"/>
</g>
<rect x="607.5" y="681.5" width="329.5" height="110.5" fill="#808080"/>
<rect x="597.5" y="671.5" width="330" height="111" fill="#e6e6e6" stroke="#303030" stroke-width="1"/>
<line x1="618" y1="695.3" x2="718" y2="695.3" stroke="#000" stroke-width="4" stroke-linecap="round"/>
<g fill="none" stroke="#000" stroke-width="1.4">
<circle cx="617.1" cy="726.9" r="8.8"/>
<circle cx="667.8" cy="726.9" r="8.8"/>
<circle cx="718.4" cy="726.9" r="8.8"/>
</g>
<line x1="617.5" y1="758.5" x2="718.5" y2="758.5" stroke="#303030" stroke-width="1" />
<text x="739.1" y="702.7" font-size="23.0" text-anchor="start" font-family='"Liberation Serif", serif' stroke="#000" stroke-width="0.3">Channel bed</text>
<text x="739.1" y="734.4" font-size="23.0" text-anchor="start" font-family='"Liberation Serif", serif' stroke="#000" stroke-width="0.3">Numerical solution</text>
<text x="739.1" y="765.7" font-size="23.0" text-anchor="start" font-family='"Liberation Serif", serif' stroke="#000" stroke-width="0.3">Analytical solution</text>
<line x1="1114" y1="640.5" x2="1973" y2="640.5" stroke="#808080" stroke-width="1" />
<line x1="1972.5" y1="640.5" x2="1972.5" y2="1092" stroke="#808080" stroke-width="1" />
<line x1="1114" y1="1070.5" x2="1973" y2="1070.5" stroke="#808080" stroke-width="1" />
<line x1="1135.5" y1="640.5" x2="1135.5" y2="1092" stroke="#000" stroke-width="1" />
<line x1="1114" y1="963.5" x2="1135.5" y2="963.5" stroke="#5a5a5a" stroke-width="1" />
<line x1="1114" y1="855.5" x2="1135.5" y2="855.5" stroke="#5a5a5a" stroke-width="1" />
<line x1="1114" y1="748.5" x2="1135.5" y2="748.5" stroke="#5a5a5a" stroke-width="1" />
<line x1="1125" y1="1016.5" x2="1135.5" y2="1016.5" stroke="#5a5a5a" stroke-width="1" />
<line x1="1125" y1="909.5" x2="1135.5" y2="909.5" stroke="#5a5a5a" stroke-width="1" />
<line x1="1125" y1="802.5" x2="1135.5" y2="802.5" stroke="#5a5a5a" stroke-width="1" />
<line x1="1125" y1="694.5" x2="1135.5" y2="694.5" stroke="#5a5a5a" stroke-width="1" />
<line x1="1303.5" y1="1070.5" x2="1303.5" y2="1092" stroke="#404040" stroke-width="1" />
<line x1="1470.5" y1="1070.5" x2="1470.5" y2="1092" stroke="#404040" stroke-width="1" />
<line x1="1637.5" y1="1070.5" x2="1637.5" y2="1092" stroke="#404040" stroke-width="1" />
<line x1="1805.5" y1="1070.5" x2="1805.5" y2="1092" stroke="#404040" stroke-width="1" />
<line x1="1219.5" y1="1070.5" x2="1219.5" y2="1081" stroke="#6a6a6a" stroke-width="1" />
<line x1="1386.5" y1="1070.5" x2="1386.5" y2="1081" stroke="#6a6a6a" stroke-width="1" />
<line x1="1554.5" y1="1070.5" x2="1554.5" y2="1081" stroke="#6a6a6a" stroke-width="1" />
<line x1="1721.5" y1="1070.5" x2="1721.5" y2="1081" stroke="#6a6a6a" stroke-width="1" />
<line x1="1889.5" y1="1070.5" x2="1889.5" y2="1081" stroke="#6a6a6a" stroke-width="1" />
<text x="1103.2" y="1079.5" font-size="27.0" text-anchor="end" font-family='"Liberation Serif", serif' >1.4</text>
<text x="1103.2" y="972" font-size="27.0" text-anchor="end" font-family='"Liberation Serif", serif' >1.45</text>
<text x="1103.2" y="864.5" font-size="27.0" text-anchor="end" font-family='"Liberation Serif", serif' >1.5</text>
<text x="1103.2" y="757" font-size="27.0" text-anchor="end" font-family='"Liberation Serif", serif' >1.55</text>
<text x="1103.2" y="649.5" font-size="27.0" text-anchor="end" font-family='"Liberation Serif", serif' >1.6</text>
<text x="1135.5" y="1124.3" font-size="27.0" text-anchor="middle" font-family='"Liberation Serif", serif' >0</text>
<text x="1302.9" y="1124.3" font-size="27.0" text-anchor="middle" font-family='"Liberation Serif", serif' >5</text>
<text x="1470.3" y="1124.3" font-size="27.0" text-anchor="middle" font-family='"Liberation Serif", serif' >10</text>
<text x="1637.7" y="1124.3" font-size="27.0" text-anchor="middle" font-family='"Liberation Serif", serif' >15</text>
<text x="1805.1" y="1124.3" font-size="27.0" text-anchor="middle" font-family='"Liberation Serif", serif' >20</text>
<text x="1972.5" y="1124.3" font-size="27.0" text-anchor="middle" font-family='"Liberation Serif", serif' >25</text>
<text x="1549" y="1155" font-size="26.7" text-anchor="middle" font-family='"Liberation Serif", serif' >Distance (m)</text>
<text transform="translate(1038 855.5) rotate(-90)" font-size="26.7" text-anchor="middle" font-family='"Liberation Serif", serif'>Discharge (m³/s)</text>
<polyline points="1139.68,790.4 1968.32,790.4" fill="none" stroke="#585858" stroke-width="1.0" />
<g fill="none" stroke="#000" stroke-width="1.2">
<circle cx="1139.68" cy="791.4" r="5.3"/>
<circle cx="1148.06" cy="791.4" r="5.3"/>
<circle cx="1156.42" cy="791.4" r="5.3"/>
<circle cx="1164.8" cy="791.4" r="5.3"/>
<circle cx="1173.16" cy="791.4" r="5.3"/>
<circle cx="1181.54" cy="791.4" r="5.3"/>
<circle cx="1189.9" cy="791.4" r="5.3"/>
<circle cx="1198.28" cy="791.4" r="5.3"/>
<circle cx="1206.64" cy="791.4" r="5.3"/>
<circle cx="1215.02" cy="791.4" r="5.3"/>
<circle cx="1223.38" cy="791.4" r="5.3"/>
<circle cx="1231.76" cy="791.4" r="5.3"/>
<circle cx="1240.12" cy="791.4" r="5.3"/>
<circle cx="1248.49" cy="791.4" r="5.3"/>
<circle cx="1256.87" cy="791.4" r="5.3"/>
<circle cx="1265.24" cy="791.4" r="5.3"/>
<circle cx="1273.61" cy="791.4" r="5.3"/>
<circle cx="1281.97" cy="791.4" r="5.3"/>
<circle cx="1290.35" cy="791.4" r="5.3"/>
<circle cx="1298.71" cy="791.4" r="5.3"/>
<circle cx="1307.09" cy="791.4" r="5.3"/>
<circle cx="1315.45" cy="791.4" r="5.3"/>
<circle cx="1323.83" cy="791.4" r="5.3"/>
<circle cx="1332.19" cy="791.4" r="5.3"/>
<circle cx="1340.57" cy="791.4" r="5.3"/>
<circle cx="1348.93" cy="791.4" r="5.3"/>
<circle cx="1357.31" cy="791.4" r="5.3"/>
<circle cx="1365.67" cy="791.4" r="5.3"/>
<circle cx="1374.05" cy="791.4" r="5.3"/>
<circle cx="1382.41" cy="791.4" r="5.3"/>
<circle cx="1390.79" cy="791.4" r="5.3"/>
<circle cx="1399.15" cy="788.6" r="5.3"/>
<circle cx="1407.53" cy="813.7" r="5.3"/>
<circle cx="1415.89" cy="797.8" r="5.3"/>
<circle cx="1424.26" cy="791" r="5.3"/>
<circle cx="1432.63" cy="792.2" r="5.3"/>
<circle cx="1441.01" cy="792.8" r="5.3"/>
<circle cx="1449.38" cy="792.6" r="5.3"/>
<circle cx="1457.74" cy="792" r="5.3"/>
<circle cx="1466.12" cy="791.4" r="5.3"/>
<circle cx="1474.49" cy="791.4" r="5.3"/>
<circle cx="1482.86" cy="791.4" r="5.3"/>
<circle cx="1491.22" cy="791.4" r="5.3"/>
<circle cx="1499.6" cy="791.4" r="5.3"/>
<circle cx="1507.96" cy="791.4" r="5.3"/>
<circle cx="1516.34" cy="791.4" r="5.3"/>
<circle cx="1524.7" cy="791.4" r="5.3"/>
<circle cx="1533.08" cy="791.4" r="5.3"/>
<circle cx="1541.44" cy="791.4" r="5.3"/>
<circle cx="1549.82" cy="791.4" r="5.3"/>
<circle cx="1558.18" cy="791.4" r="5.3"/>
<circle cx="1566.56" cy="791.4" r="5.3"/>
<circle cx="1574.92" cy="791.4" r="5.3"/>
<circle cx="1583.3" cy="791.4" r="5.3"/>
<circle cx="1591.66" cy="791.4" r="5.3"/>
<circle cx="1600.04" cy="791.4" r="5.3"/>
<circle cx="1608.4" cy="791.4" r="5.3"/>
<circle cx="1616.78" cy="791.4" r="5.3"/>
<circle cx="1625.14" cy="791.4" r="5.3"/>
<circle cx="1633.51" cy="791.4" r="5.3"/>
<circle cx="1641.88" cy="791.4" r="5.3"/>
<circle cx="1650.26" cy="791.4" r="5.3"/>
<circle cx="1658.62" cy="791.4" r="5.3"/>
<circle cx="1666.99" cy="791.4" r="5.3"/>
<circle cx="1675.37" cy="791.4" r="5.3"/>
<circle cx="1683.74" cy="791.4" r="5.3"/>
<circle cx="1692.11" cy="791.4" r="5.3"/>
<circle cx="1700.47" cy="791.4" r="5.3"/>
<circle cx="1708.85" cy="791.4" r="5.3"/>
<circle cx="1717.22" cy="791.4" r="5.3"/>
<circle cx="1725.59" cy="791.4" r="5.3"/>
<circle cx="1733.95" cy="791.4" r="5.3"/>
<circle cx="1742.33" cy="791.4" r="5.3"/>
<circle cx="1750.7" cy="791.4" r="5.3"/>
<circle cx="1759.07" cy="791.4" r="5.3"/>
<circle cx="1767.43" cy="791.4" r="5.3"/>
<circle cx="1775.8" cy="791.4" r="5.3"/>
<circle cx="1784.17" cy="791.4" r="5.3"/>
<circle cx="1792.55" cy="791.4" r="5.3"/>
<circle cx="1800.91" cy="791.4" r="5.3"/>
<circle cx="1809.28" cy="791.4" r="5.3"/>
<circle cx="1817.65" cy="791.4" r="5.3"/>
<circle cx="1826.03" cy="791.4" r="5.3"/>
<circle cx="1834.39" cy="791.4" r="5.3"/>
<circle cx="1842.76" cy="791.4" r="5.3"/>
<circle cx="1851.13" cy="791.4" r="5.3"/>
<circle cx="1859.51" cy="791.4" r="5.3"/>
<circle cx="1867.88" cy="791.4" r="5.3"/>
<circle cx="1876.24" cy="791.4" r="5.3"/>
<circle cx="1884.62" cy="791.4" r="5.3"/>
<circle cx="1892.99" cy="791.4" r="5.3"/>
<circle cx="1901.36" cy="791.4" r="5.3"/>
<circle cx="1909.72" cy="791.4" r="5.3"/>
<circle cx="1918.1" cy="791.4" r="5.3"/>
<circle cx="1926.47" cy="791.4" r="5.3"/>
<circle cx="1934.84" cy="791.4" r="5.3"/>
<circle cx="1943.2" cy="791.4" r="5.3"/>
<circle cx="1951.58" cy="791.4" r="5.3"/>
<circle cx="1959.95" cy="791.4" r="5.3"/>
<circle cx="1968.32" cy="791.4" r="5.3"/>
</g>
<rect x="1615.5" y="964.5" width="330" height="79" fill="#e6e6e6" stroke="#808080" stroke-width="1"/>
<g fill="none" stroke="#000" stroke-width="1.4">
<circle cx="1635.1" cy="988.6" r="8.8"/>
<circle cx="1685.6" cy="988.6" r="8.8"/>
<circle cx="1736.3" cy="988.6" r="8.8"/>
</g>
<line x1="1635" y1="1020.4" x2="1736" y2="1020.4" stroke="#202020" stroke-width="1" />
<text x="1756.1" y="996.1" font-size="23.0" text-anchor="start" font-family='"Liberation Serif", serif' stroke="#000" stroke-width="0.3">Numerical solution</text>
<text x="1756.1" y="1027.4" font-size="23.0" text-anchor="start" font-family='"Liberation Serif", serif' stroke="#000" stroke-width="0.3">Analytical solution</text>
<line x1="99" y1="1243.5" x2="962" y2="1243.5" stroke="#808080" stroke-width="1" />
<line x1="961.5" y1="1243.5" x2="961.5" y2="1693" stroke="#808080" stroke-width="1" />
<line x1="99" y1="1671.5" x2="962" y2="1671.5" stroke="#808080" stroke-width="1" />
<line x1="120.5" y1="1243.5" x2="120.5" y2="1693" stroke="#808080" stroke-width="1" />
<line x1="99" y1="1586.5" x2="120.5" y2="1586.5" stroke="#5a5a5a" stroke-width="1" />
<line x1="99" y1="1500.5" x2="120.5" y2="1500.5" stroke="#5a5a5a" stroke-width="1" />
<line x1="99" y1="1414.5" x2="120.5" y2="1414.5" stroke="#5a5a5a" stroke-width="1" />
<line x1="99" y1="1329.5" x2="120.5" y2="1329.5" stroke="#5a5a5a" stroke-width="1" />
<line x1="110" y1="1628.5" x2="120.5" y2="1628.5" stroke="#5a5a5a" stroke-width="1" />
<line x1="110" y1="1543.5" x2="120.5" y2="1543.5" stroke="#5a5a5a" stroke-width="1" />
<line x1="110" y1="1457.5" x2="120.5" y2="1457.5" stroke="#5a5a5a" stroke-width="1" />
<line x1="110" y1="1372.5" x2="120.5" y2="1372.5" stroke="#5a5a5a" stroke-width="1" />
<line x1="110" y1="1286.5" x2="120.5" y2="1286.5" stroke="#5a5a5a" stroke-width="1" />
<line x1="288.5" y1="1671.5" x2="288.5" y2="1693" stroke="#404040" stroke-width="1" />
<line x1="457.5" y1="1671.5" x2="457.5" y2="1693" stroke="#404040" stroke-width="1" />
<line x1="625.5" y1="1671.5" x2="625.5" y2="1693" stroke="#404040" stroke-width="1" />
<line x1="793.5" y1="1671.5" x2="793.5" y2="1693" stroke="#404040" stroke-width="1" />
<line x1="204.5" y1="1671.5" x2="204.5" y2="1682" stroke="#6a6a6a" stroke-width="1" />
<line x1="373.5" y1="1671.5" x2="373.5" y2="1682" stroke="#6a6a6a" stroke-width="1" />
<line x1="541.5" y1="1671.5" x2="541.5" y2="1682" stroke="#6a6a6a" stroke-width="1" />
<line x1="709.5" y1="1671.5" x2="709.5" y2="1682" stroke="#6a6a6a" stroke-width="1" />
<line x1="877.5" y1="1671.5" x2="877.5" y2="1682" stroke="#6a6a6a" stroke-width="1" />
<text x="88.4" y="1680.5" font-size="27.0" text-anchor="end" font-family='"Liberation Serif", serif' >0</text>
<text x="88.4" y="1594.9" font-size="27.0" text-anchor="end" font-family='"Liberation Serif", serif' >0.1</text>
<text x="88.4" y="1509.3" font-size="27.0" text-anchor="end" font-family='"Liberation Serif", serif' >0.2</text>
<text x="88.4" y="1423.7" font-size="27.0" text-anchor="end" font-family='"Liberation Serif", serif' >0.3</text>
<text x="88.4" y="1338.1" font-size="27.0" text-anchor="end" font-family='"Liberation Serif", serif' >0.4</text>
<text x="88.4" y="1252.5" font-size="27.0" text-anchor="end" font-family='"Liberation Serif", serif' >0.5</text>
<text x="120.5" y="1726.3" font-size="27.0" text-anchor="middle" font-family='"Liberation Serif", serif' >0</text>
<text x="288.7" y="1726.3" font-size="27.0" text-anchor="middle" font-family='"Liberation Serif", serif' >5</text>
<text x="456.9" y="1726.3" font-size="27.0" text-anchor="middle" font-family='"Liberation Serif", serif' >10</text>
<text x="625.1" y="1726.3" font-size="27.0" text-anchor="middle" font-family='"Liberation Serif", serif' >15</text>
<text x="793.3" y="1726.3" font-size="27.0" text-anchor="middle" font-family='"Liberation Serif", serif' >20</text>
<text x="961.5" y="1726.3" font-size="27.0" text-anchor="middle" font-family='"Liberation Serif", serif' >25</text>
<text x="536" y="1756.3" font-size="26.7" text-anchor="middle" font-family='"Liberation Serif", serif' >Distance (m)</text>
<text transform="translate(37.8 1457.5) rotate(-90)" font-size="26.7" text-anchor="middle" font-family='"Liberation Serif", serif'>Elevation (m)</text>
<polyline points="124.7,1324 133.12,1324 141.53,1324 149.94,1324 158.34,1324 166.75,1324 175.16,1324 183.57,1324 191.99,1324 200.39,1324 208.81,1324 217.22,1324 225.62,1324 234.03,1324 242.44,1324 250.85,1324 259.26,1324 267.68,1324 276.09,1324 284.5,1324 292.9,1324 301.31,1324 309.73,1324 318.13,1324 326.54,1324 334.96,1324 343.37,1324 351.77,1324 360.19,1324 368.6,1324 377,1324 385.42,1324 393.82,1324.9 402.24,1327.9 410.64,1330.5 419.06,1334.9 427.46,1340.1 435.88,1347.9 445.79,1355 454.19,1366.9 462.61,1385 471.01,1405.5 479.43,1428.8 487.83,1455.7 496.25,1485 502.5,1498.5 508.3,1536.2 510.3,1489 511.3,1450 513.2,1399.3 513.7,1394.4 523,1388.6 531,1388.2 957.29,1388.2" fill="none" stroke="#585858" stroke-width="1.0" />
<polyline points="124.7,1671.9 133.12,1671.9 141.53,1671.9 149.94,1671.9 158.34,1671.9 166.75,1671.9 175.16,1671.9 183.57,1671.9 191.99,1671.9 200.39,1671.9 208.81,1671.9 217.22,1671.9 225.62,1671.9 234.03,1671.9 242.44,1671.9 250.85,1671.9 259.26,1671.9 267.68,1671.9 276.09,1671.9 284.5,1671.9 292.9,1671.9 301.31,1671.9 309.73,1671.9 318.13,1671.9 326.54,1671.9 334.96,1671.9 343.37,1671.9 351.77,1671.9 360.19,1671.9 368.6,1671.9 377,1671.9 385.42,1671.9 393.82,1651.17 402.24,1613.72 410.64,1581.62 419.06,1554.87 427.46,1533.47 435.88,1517.42 444.29,1506.72 452.69,1501.37 461.11,1501.37 469.51,1506.72 477.93,1517.42 486.33,1533.47 494.75,1554.87 503.15,1581.62 511.56,1613.72 519.98,1651.17 528.38,1671.9 536.8,1671.9 545.2,1671.9 553.62,1671.9 562.02,1671.9 570.43,1671.9 578.85,1671.9 587.25,1671.9 595.66,1671.9 604.08,1671.9 612.49,1671.9 620.89,1671.9 629.31,1671.9 637.72,1671.9 646.12,1671.9 654.53,1671.9 662.95,1671.9 671.36,1671.9 679.76,1671.9 688.17,1671.9 696.59,1671.9 705,1671.9 713.4,1671.9 721.82,1671.9 730.23,1671.9 738.63,1671.9 747.04,1671.9 755.46,1671.9 763.87,1671.9 772.27,1671.9 780.68,1671.9 789.1,1671.9 797.5,1671.9 805.91,1671.9 814.33,1671.9 822.74,1671.9 831.14,1671.9 839.55,1671.9 847.97,1671.9 856.38,1671.9 864.78,1671.9 873.2,1671.9 881.61,1671.9 890.01,1671.9 898.42,1671.9 906.84,1671.9 915.25,1671.9 923.65,1671.9 932.07,1671.9 940.48,1671.9 948.88,1671.9 957.29,1671.9" fill="none" stroke="#000" stroke-width="4" stroke-linecap="round" stroke-linejoin="round"/>
<g fill="none" stroke="#000" stroke-width="1.2">
<circle cx="124.7" cy="1324.3" r="5.3"/>
<circle cx="133.12" cy="1324.3" r="5.3"/>
<circle cx="141.53" cy="1324.3" r="5.3"/>
<circle cx="149.94" cy="1324.3" r="5.3"/>
<circle cx="158.34" cy="1324.3" r="5.3"/>
<circle cx="166.75" cy="1324.3" r="5.3"/>
<circle cx="175.16" cy="1324.3" r="5.3"/>
<circle cx="183.57" cy="1324.3" r="5.3"/>
<circle cx="191.99" cy="1324.3" r="5.3"/>
<circle cx="200.39" cy="1324.3" r="5.3"/>
<circle cx="208.81" cy="1324.3" r="5.3"/>
<circle cx="217.22" cy="1324.3" r="5.3"/>
<circle cx="225.62" cy="1324.3" r="5.3"/>
<circle cx="234.03" cy="1324.3" r="5.3"/>
<circle cx="242.44" cy="1324.3" r="5.3"/>
<circle cx="250.85" cy="1324.3" r="5.3"/>
<circle cx="259.26" cy="1324.3" r="5.3"/>
<circle cx="267.68" cy="1324.3" r="5.3"/>
<circle cx="276.09" cy="1324.3" r="5.3"/>
<circle cx="284.5" cy="1324.3" r="5.3"/>
<circle cx="292.9" cy="1324.3" r="5.3"/>
<circle cx="301.31" cy="1324.3" r="5.3"/>
<circle cx="309.73" cy="1324.3" r="5.3"/>
<circle cx="318.13" cy="1324.3" r="5.3"/>
<circle cx="326.54" cy="1324.3" r="5.3"/>
<circle cx="334.96" cy="1324.3" r="5.3"/>
<circle cx="343.37" cy="1324.3" r="5.3"/>
<circle cx="351.77" cy="1324.3" r="5.3"/>
<circle cx="360.19" cy="1324.3" r="5.3"/>
<circle cx="368.6" cy="1324.3" r="5.3"/>
<circle cx="377" cy="1324.3" r="5.3"/>
<circle cx="385.42" cy="1324.3" r="5.3"/>
<circle cx="393.82" cy="1324.9" r="5.3"/>
<circle cx="402.24" cy="1327.9" r="5.3"/>
<circle cx="410.64" cy="1330.5" r="5.3"/>
<circle cx="419.06" cy="1334.9" r="5.3"/>
<circle cx="427.46" cy="1340.1" r="5.3"/>
<circle cx="435.88" cy="1347.9" r="5.3"/>
<circle cx="444.29" cy="1357.5" r="5.3"/>
<circle cx="452.69" cy="1369.4" r="5.3"/>
<circle cx="461.11" cy="1387.5" r="5.3"/>
<circle cx="469.51" cy="1408" r="5.3"/>
<circle cx="477.93" cy="1431.3" r="5.3"/>
<circle cx="486.33" cy="1458.2" r="5.3"/>
<circle cx="494.75" cy="1487.5" r="5.3"/>
<circle cx="503.15" cy="1506.7" r="5.3"/>
<circle cx="511.56" cy="1426.9" r="5.3"/>
<circle cx="519.98" cy="1399.8" r="5.3"/>
<circle cx="528.38" cy="1391.3" r="5.3"/>
<circle cx="536.8" cy="1389.8" r="5.3"/>
<circle cx="545.2" cy="1389.6" r="5.3"/>
<circle cx="553.62" cy="1389.4" r="5.3"/>
<circle cx="562.02" cy="1389.4" r="5.3"/>
<circle cx="570.43" cy="1389.4" r="5.3"/>
<circle cx="578.85" cy="1389.4" r="5.3"/>
<circle cx="587.25" cy="1389.4" r="5.3"/>
<circle cx="595.66" cy="1389.4" r="5.3"/>
<circle cx="604.08" cy="1389.4" r="5.3"/>
<circle cx="612.49" cy="1389.4" r="5.3"/>
<circle cx="620.89" cy="1389.4" r="5.3"/>
<circle cx="629.31" cy="1389.4" r="5.3"/>
<circle cx="637.72" cy="1389.4" r="5.3"/>
<circle cx="646.12" cy="1389.4" r="5.3"/>
<circle cx="654.53" cy="1389.4" r="5.3"/>
<circle cx="662.95" cy="1389.4" r="5.3"/>
<circle cx="671.36" cy="1389.4" r="5.3"/>
<circle cx="679.76" cy="1389.4" r="5.3"/>
<circle cx="688.17" cy="1389.4" r="5.3"/>
<circle cx="696.59" cy="1389.4" r="5.3"/>
<circle cx="705" cy="1389.4" r="5.3"/>
<circle cx="713.4" cy="1389.4" r="5.3"/>
<circle cx="721.82" cy="1389.4" r="5.3"/>
<circle cx="730.23" cy="1389.4" r="5.3"/>
<circle cx="738.63" cy="1389.4" r="5.3"/>
<circle cx="747.04" cy="1389.4" r="5.3"/>
<circle cx="755.46" cy="1389.4" r="5.3"/>
<circle cx="763.87" cy="1389.4" r="5.3"/>
<circle cx="772.27" cy="1389.4" r="5.3"/>
<circle cx="780.68" cy="1389.4" r="5.3"/>
<circle cx="789.1" cy="1389.4" r="5.3"/>
<circle cx="797.5" cy="1389.4" r="5.3"/>
<circle cx="805.91" cy="1389.4" r="5.3"/>
<circle cx="814.33" cy="1389.4" r="5.3"/>
<circle cx="822.74" cy="1389.4" r="5.3"/>
<circle cx="831.14" cy="1389.4" r="5.3"/>
<circle cx="839.55" cy="1389.4" r="5.3"/>
<circle cx="847.97" cy="1389.4" r="5.3"/>
<circle cx="856.38" cy="1389.4" r="5.3"/>
<circle cx="864.78" cy="1389.4" r="5.3"/>
<circle cx="873.2" cy="1389.4" r="5.3"/>
<circle cx="881.61" cy="1389.4" r="5.3"/>
<circle cx="890.01" cy="1389.4" r="5.3"/>
<circle cx="898.42" cy="1389.4" r="5.3"/>
<circle cx="906.84" cy="1389.4" r="5.3"/>
<circle cx="915.25" cy="1389.4" r="5.3"/>
<circle cx="923.65" cy="1389.4" r="5.3"/>
<circle cx="932.07" cy="1389.4" r="5.3"/>
<circle cx="940.48" cy="1389.4" r="5.3"/>
<circle cx="948.88" cy="1389.4" r="5.3"/>
<circle cx="957.29" cy="1389.4" r="5.3"/>
</g>
<rect x="614.5" y="1541.5" width="329.5" height="110.5" fill="#808080"/>
<rect x="604.5" y="1531.5" width="330" height="111" fill="#e6e6e6" stroke="#6a6a6a" stroke-width="1"/>
<line x1="625" y1="1555.3" x2="725" y2="1555.3" stroke="#000" stroke-width="4" stroke-linecap="round"/>
<g fill="none" stroke="#000" stroke-width="1.4">
<circle cx="624.1" cy="1586.9" r="8.8"/>
<circle cx="674.8" cy="1586.9" r="8.8"/>
<circle cx="725.4" cy="1586.9" r="8.8"/>
</g>
<line x1="624.5" y1="1618.5" x2="725.5" y2="1618.5" stroke="#303030" stroke-width="1" />
<text x="746.1" y="1562.7" font-size="23.0" text-anchor="start" font-family='"Liberation Serif", serif' stroke="#000" stroke-width="0.3">Channel bed</text>
<text x="746.1" y="1594.4" font-size="23.0" text-anchor="start" font-family='"Liberation Serif", serif' stroke="#000" stroke-width="0.3">Numerical solution</text>
<text x="746.1" y="1625.7" font-size="23.0" text-anchor="start" font-family='"Liberation Serif", serif' stroke="#000" stroke-width="0.3">Analytical solution</text>
<line x1="1108" y1="1243.5" x2="1967" y2="1243.5" stroke="#808080" stroke-width="1" />
<line x1="1966.5" y1="1243.5" x2="1966.5" y2="1695" stroke="#808080" stroke-width="1" />
<line x1="1108" y1="1673.5" x2="1967" y2="1673.5" stroke="#808080" stroke-width="1" />
<line x1="1129.5" y1="1243.5" x2="1129.5" y2="1695" stroke="#000" stroke-width="1" />
<line x1="1108" y1="1458.5" x2="1129.5" y2="1458.5" stroke="#5a5a5a" stroke-width="1" />
<line x1="1119" y1="1566.5" x2="1129.5" y2="1566.5" stroke="#5a5a5a" stroke-width="1" />
<line x1="1119" y1="1351.5" x2="1129.5" y2="1351.5" stroke="#5a5a5a" stroke-width="1" />
<line x1="1297.5" y1="1673.5" x2="1297.5" y2="1695" stroke="#404040" stroke-width="1" />
<line x1="1464.5" y1="1673.5" x2="1464.5" y2="1695" stroke="#404040" stroke-width="1" />
<line x1="1631.5" y1="1673.5" x2="1631.5" y2="1695" stroke="#404040" stroke-width="1" />
<line x1="1799.5" y1="1673.5" x2="1799.5" y2="1695" stroke="#404040" stroke-width="1" />
<line x1="1213.5" y1="1673.5" x2="1213.5" y2="1684" stroke="#6a6a6a" stroke-width="1" />
<line x1="1380.5" y1="1673.5" x2="1380.5" y2="1684" stroke="#6a6a6a" stroke-width="1" />
<line x1="1548.5" y1="1673.5" x2="1548.5" y2="1684" stroke="#6a6a6a" stroke-width="1" />
<line x1="1715.5" y1="1673.5" x2="1715.5" y2="1684" stroke="#6a6a6a" stroke-width="1" />
<line x1="1883.5" y1="1673.5" x2="1883.5" y2="1684" stroke="#6a6a6a" stroke-width="1" />
<text x="1097.2" y="1682.5" font-size="27.0" text-anchor="end" font-family='"Liberation Serif", serif' >0.1</text>
<text x="1097.2" y="1467.5" font-size="27.0" text-anchor="end" font-family='"Liberation Serif", serif' >0.2</text>
<text x="1097.2" y="1252.5" font-size="27.0" text-anchor="end" font-family='"Liberation Serif", serif' >0.3</text>
<text x="1129.5" y="1727.3" font-size="27.0" text-anchor="middle" font-family='"Liberation Serif", serif' >0</text>
<text x="1296.9" y="1727.3" font-size="27.0" text-anchor="middle" font-family='"Liberation Serif", serif' >5</text>
<text x="1464.3" y="1727.3" font-size="27.0" text-anchor="middle" font-family='"Liberation Serif", serif' >10</text>
<text x="1631.7" y="1727.3" font-size="27.0" text-anchor="middle" font-family='"Liberation Serif", serif' >15</text>
<text x="1799.1" y="1727.3" font-size="27.0" text-anchor="middle" font-family='"Liberation Serif", serif' >20</text>
<text x="1966.5" y="1727.3" font-size="27.0" text-anchor="middle" font-family='"Liberation Serif", serif' >25</text>
<text x="1543" y="1758" font-size="26.7" text-anchor="middle" font-family='"Liberation Serif", serif' >Distance (m)</text>
<text transform="translate(1045 1458.5) rotate(-90)" font-size="26.7" text-anchor="middle" font-family='"Liberation Serif", serif'>Discharge (m³/s)</text>
<polyline points="1133.68,1501.3 1962.32,1501.3" fill="none" stroke="#585858" stroke-width="1.0" />
<g fill="none" stroke="#000" stroke-width="1.2">
<circle cx="1133.68" cy="1501.5" r="5.3"/>
<circle cx="1142.06" cy="1501.5" r="5.3"/>
<circle cx="1150.42" cy="1501.5" r="5.3"/>
<circle cx="1158.8" cy="1501.5" r="5.3"/>
<circle cx="1167.16" cy="1501.5" r="5.3"/>
<circle cx="1175.54" cy="1501.5" r="5.3"/>
<circle cx="1183.9" cy="1501.5" r="5.3"/>
<circle cx="1192.28" cy="1501.5" r="5.3"/>
<circle cx="1200.64" cy="1501.5" r="5.3"/>
<circle cx="1209.02" cy="1501.5" r="5.3"/>
<circle cx="1217.38" cy="1501.5" r="5.3"/>
<circle cx="1225.76" cy="1501.5" r="5.3"/>
<circle cx="1234.12" cy="1501.5" r="5.3"/>
<circle cx="1242.49" cy="1501.5" r="5.3"/>
<circle cx="1250.87" cy="1501.5" r="5.3"/>
<circle cx="1259.24" cy="1501.5" r="5.3"/>
<circle cx="1267.61" cy="1501.5" r="5.3"/>
<circle cx="1275.97" cy="1501.5" r="5.3"/>
<circle cx="1284.35" cy="1501.5" r="5.3"/>
<circle cx="1292.71" cy="1501.5" r="5.3"/>
<circle cx="1301.09" cy="1501.5" r="5.3"/>
<circle cx="1309.45" cy="1501.5" r="5.3"/>
<circle cx="1317.83" cy="1501.5" r="5.3"/>
<circle cx="1326.19" cy="1501.5" r="5.3"/>
<circle cx="1334.57" cy="1501.5" r="5.3"/>
<circle cx="1342.93" cy="1501.5" r="5.3"/>
<circle cx="1351.31" cy="1501.5" r="5.3"/>
<circle cx="1359.67" cy="1501.5" r="5.3"/>
<circle cx="1368.05" cy="1501.5" r="5.3"/>
<circle cx="1376.41" cy="1501.5" r="5.3"/>
<circle cx="1384.79" cy="1501.5" r="5.3"/>
<circle cx="1393.15" cy="1500.1" r="5.3"/>
<circle cx="1401.53" cy="1505.5" r="5.3"/>
<circle cx="1409.89" cy="1507.6" r="5.3"/>
<circle cx="1418.26" cy="1508.7" r="5.3"/>
<circle cx="1426.63" cy="1509.9" r="5.3"/>
<circle cx="1435.01" cy="1510.5" r="5.3"/>
<circle cx="1443.38" cy="1510.5" r="5.3"/>
<circle cx="1451.74" cy="1508.5" r="5.3"/>
<circle cx="1460.12" cy="1503.3" r="5.3"/>
<circle cx="1468.49" cy="1501.5" r="5.3"/>
<circle cx="1476.86" cy="1501.5" r="5.3"/>
<circle cx="1485.22" cy="1501.5" r="5.3"/>
<circle cx="1493.6" cy="1501.5" r="5.3"/>
<circle cx="1501.96" cy="1501.5" r="5.3"/>
<circle cx="1510.34" cy="1501.5" r="5.3"/>
<circle cx="1518.7" cy="1453.5" r="5.3"/>
<circle cx="1527.08" cy="1478.4" r="5.3"/>
<circle cx="1535.44" cy="1496.2" r="5.3"/>
<circle cx="1543.82" cy="1500.1" r="5.3"/>
<circle cx="1552.18" cy="1501.5" r="5.3"/>
<circle cx="1560.56" cy="1501.5" r="5.3"/>
<circle cx="1568.92" cy="1501.5" r="5.3"/>
<circle cx="1577.3" cy="1501.5" r="5.3"/>
<circle cx="1585.66" cy="1501.5" r="5.3"/>
<circle cx="1594.04" cy="1501.5" r="5.3"/>
<circle cx="1602.4" cy="1501.5" r="5.3"/>
<circle cx="1610.78" cy="1501.5" r="5.3"/>
<circle cx="1619.14" cy="1501.5" r="5.3"/>
<circle cx="1627.51" cy="1501.5" r="5.3"/>
<circle cx="1635.88" cy="1501.5" r="5.3"/>
<circle cx="1644.26" cy="1501.5" r="5.3"/>
<circle cx="1652.62" cy="1501.5" r="5.3"/>
<circle cx="1660.99" cy="1501.5" r="5.3"/>
<circle cx="1669.37" cy="1501.5" r="5.3"/>
<circle cx="1677.74" cy="1501.5" r="5.3"/>
<circle cx="1686.11" cy="1501.5" r="5.3"/>
<circle cx="1694.47" cy="1501.5" r="5.3"/>
<circle cx="1702.85" cy="1501.5" r="5.3"/>
<circle cx="1711.22" cy="1501.5" r="5.3"/>
<circle cx="1719.59" cy="1501.5" r="5.3"/>
<circle cx="1727.95" cy="1501.5" r="5.3"/>
<circle cx="1736.33" cy="1501.5" r="5.3"/>
<circle cx="1744.7" cy="1501.5" r="5.3"/>
<circle cx="1753.07" cy="1501.5" r="5.3"/>
<circle cx="1761.43" cy="1501.5" r="5.3"/>
<circle cx="1769.8" cy="1501.5" r="5.3"/>
<circle cx="1778.17" cy="1501.5" r="5.3"/>
<circle cx="1786.55" cy="1501.5" r="5.3"/>
<circle cx="1794.91" cy="1501.5" r="5.3"/>
<circle cx="1803.28" cy="1501.5" r="5.3"/>
<circle cx="1811.65" cy="1501.5" r="5.3"/>
<circle cx="1820.03" cy="1501.5" r="5.3"/>
<circle cx="1828.39" cy="1501.5" r="5.3"/>
<circle cx="1836.76" cy="1501.5" r="5.3"/>
<circle cx="1845.13" cy="1501.5" r="5.3"/>
<circle cx="1853.51" cy="1501.5" r="5.3"/>
<circle cx="1861.88" cy="1501.5" r="5.3"/>
<circle cx="1870.24" cy="1501.5" r="5.3"/>
<circle cx="1878.62" cy="1501.5" r="5.3"/>
<circle cx="1886.99" cy="1501.5" r="5.3"/>
<circle cx="1895.36" cy="1501.5" r="5.3"/>
<circle cx="1903.72" cy="1501.5" r="5.3"/>
<circle cx="1912.1" cy="1501.5" r="5.3"/>
<circle cx="1920.47" cy="1501.5" r="5.3"/>
<circle cx="1928.84" cy="1501.5" r="5.3"/>
<circle cx="1937.2" cy="1501.5" r="5.3"/>
<circle cx="1945.58" cy="1501.5" r="5.3"/>
<circle cx="1953.95" cy="1501.5" r="5.3"/>
<circle cx="1962.32" cy="1501.5" r="5.3"/>
</g>
<rect x="1609.5" y="1567.5" width="330" height="79" fill="#e6e6e6" stroke="#808080" stroke-width="1"/>
<g fill="none" stroke="#000" stroke-width="1.4">
<circle cx="1629.1" cy="1591.6" r="8.8"/>
<circle cx="1679.6" cy="1591.6" r="8.8"/>
<circle cx="1730.3" cy="1591.6" r="8.8"/>
</g>
<line x1="1629" y1="1623.4" x2="1730" y2="1623.4" stroke="#202020" stroke-width="1" />
<text x="1750.1" y="1599.1" font-size="23.0" text-anchor="start" font-family='"Liberation Serif", serif' stroke="#000" stroke-width="0.3">Numerical solution</text>
<text x="1750.1" y="1630.4" font-size="23.0" text-anchor="start" font-family='"Liberation Serif", serif' stroke="#000" stroke-width="0.3">Analytical solution</text>
<text x="236.59" y="604.3" font-size="35" font-family='"Liberation Sans", "Noto Sans CJK KR", sans-serif' textLength="36.64" lengthAdjust="spacingAndGlyphs" stroke="#fff" stroke-width="0.35">(a)</text>
<text x="283.8" y="604.3" font-size="35" font-family='"Liberation Sans", "Noto Sans CJK KR", sans-serif' textLength="87.44" lengthAdjust="spacingAndGlyphs" stroke="#fff" stroke-width="0.35">Water</text>
<text x="380.39" y="604.3" font-size="35" font-family='"Liberation Sans", "Noto Sans CJK KR", sans-serif' textLength="104.02" lengthAdjust="spacingAndGlyphs" stroke="#fff" stroke-width="0.35">surface</text>
<text x="492.87" y="604.3" font-size="35" font-family='"Liberation Sans", "Noto Sans CJK KR", sans-serif' textLength="129.78" lengthAdjust="spacingAndGlyphs" stroke="#fff" stroke-width="0.35">elevation</text>
<text x="633.55" y="604.3" font-size="35" font-family='"Liberation Sans", "Noto Sans CJK KR", sans-serif' textLength="76.98" lengthAdjust="spacingAndGlyphs" stroke="#fff" stroke-width="0.35">(Case</text>
<text x="724.38" y="604.3" font-size="31" font-family='"Liberation Sans", "Noto Sans CJK KR", sans-serif' textLength="16.74" lengthAdjust="spacingAndGlyphs" stroke="#000" stroke-width="0.3">Ⅰ</text>
<text x="746.2" y="604.3" font-size="35" font-family='"Liberation Sans", "Noto Sans CJK KR", sans-serif' textLength="9.33" lengthAdjust="spacingAndGlyphs" stroke="#fff" stroke-width="0.35">)</text>
<text x="236.49" y="1207.1" font-size="35" font-family='"Liberation Sans", "Noto Sans CJK KR", sans-serif' textLength="36.84" lengthAdjust="spacingAndGlyphs" stroke="#fff" stroke-width="0.35">(c)</text>
<text x="283.8" y="1207.1" font-size="35" font-family='"Liberation Sans", "Noto Sans CJK KR", sans-serif' textLength="87.44" lengthAdjust="spacingAndGlyphs" stroke="#fff" stroke-width="0.35">Water</text>
<text x="380.39" y="1207.1" font-size="35" font-family='"Liberation Sans", "Noto Sans CJK KR", sans-serif' textLength="104.02" lengthAdjust="spacingAndGlyphs" stroke="#fff" stroke-width="0.35">surface</text>
<text x="492.87" y="1207.1" font-size="35" font-family='"Liberation Sans", "Noto Sans CJK KR", sans-serif' textLength="129.78" lengthAdjust="spacingAndGlyphs" stroke="#fff" stroke-width="0.35">elevation</text>
<text x="633.55" y="1207.1" font-size="35" font-family='"Liberation Sans", "Noto Sans CJK KR", sans-serif' textLength="76.98" lengthAdjust="spacingAndGlyphs" stroke="#fff" stroke-width="0.35">(Case</text>
<text x="718.35" y="1207.1" font-size="31" font-family='"Liberation Sans", "Noto Sans CJK KR", sans-serif' textLength="26.71" lengthAdjust="spacingAndGlyphs" stroke="#000" stroke-width="0.3">Ⅱ</text>
<text x="746.2" y="1207.1" font-size="35" font-family='"Liberation Sans", "Noto Sans CJK KR", sans-serif' textLength="9.33" lengthAdjust="spacingAndGlyphs" stroke="#fff" stroke-width="0.35">)</text>
<text x="236.59" y="1811.3" font-size="35" font-family='"Liberation Sans", "Noto Sans CJK KR", sans-serif' textLength="36.64" lengthAdjust="spacingAndGlyphs" stroke="#fff" stroke-width="0.35">(e)</text>
<text x="283.8" y="1811.3" font-size="35" font-family='"Liberation Sans", "Noto Sans CJK KR", sans-serif' textLength="87.44" lengthAdjust="spacingAndGlyphs" stroke="#fff" stroke-width="0.35">Water</text>
<text x="380.39" y="1811.3" font-size="35" font-family='"Liberation Sans", "Noto Sans CJK KR", sans-serif' textLength="104.02" lengthAdjust="spacingAndGlyphs" stroke="#fff" stroke-width="0.35">surface</text>
<text x="492.87" y="1811.3" font-size="35" font-family='"Liberation Sans", "Noto Sans CJK KR", sans-serif' textLength="129.78" lengthAdjust="spacingAndGlyphs" stroke="#fff" stroke-width="0.35">elevation</text>
<text x="633.55" y="1811.3" font-size="35" font-family='"Liberation Sans", "Noto Sans CJK KR", sans-serif' textLength="76.98" lengthAdjust="spacingAndGlyphs" stroke="#fff" stroke-width="0.35">(Case</text>
<text x="721.3" y="1811.3" font-size="31" font-family='"Liberation Sans", "Noto Sans CJK KR", sans-serif' textLength="22.51" lengthAdjust="spacingAndGlyphs" stroke="#000" stroke-width="0.3">Ⅲ</text>
<text x="746.2" y="1811.3" font-size="35" font-family='"Liberation Sans", "Noto Sans CJK KR", sans-serif' textLength="9.33" lengthAdjust="spacingAndGlyphs" stroke="#fff" stroke-width="0.35">)</text>
<text x="1340.37" y="604.3" font-size="35" font-family='"Liberation Sans", "Noto Sans CJK KR", sans-serif' textLength="39.16" lengthAdjust="spacingAndGlyphs" stroke="#fff" stroke-width="0.35">(b)</text>
<text x="1390.12" y="604.3" font-size="35" font-family='"Liberation Sans", "Noto Sans CJK KR", sans-serif' textLength="139.98" lengthAdjust="spacingAndGlyphs" stroke="#fff" stroke-width="0.35">Discharge</text>
<text x="1541.36" y="604.3" font-size="35" font-family='"Liberation Sans", "Noto Sans CJK KR", sans-serif' textLength="76.46" lengthAdjust="spacingAndGlyphs" stroke="#fff" stroke-width="0.35">(Case</text>
<text x="1631.34" y="604.3" font-size="31" font-family='"Liberation Sans", "Noto Sans CJK KR", sans-serif' textLength="19.22" lengthAdjust="spacingAndGlyphs" stroke="#000" stroke-width="0.3">Ⅰ</text>
<text x="1653.3" y="604.3" font-size="35" font-family='"Liberation Sans", "Noto Sans CJK KR", sans-serif' textLength="10.26" lengthAdjust="spacingAndGlyphs" stroke="#fff" stroke-width="0.35">)</text>
<text x="1340.37" y="1207.1" font-size="35" font-family='"Liberation Sans", "Noto Sans CJK KR", sans-serif' textLength="39.16" lengthAdjust="spacingAndGlyphs" stroke="#fff" stroke-width="0.35">(d)</text>
<text x="1390.12" y="1207.1" font-size="35" font-family='"Liberation Sans", "Noto Sans CJK KR", sans-serif' textLength="139.98" lengthAdjust="spacingAndGlyphs" stroke="#fff" stroke-width="0.35">Discharge</text>
<text x="1541.36" y="1207.1" font-size="35" font-family='"Liberation Sans", "Noto Sans CJK KR", sans-serif' textLength="76.46" lengthAdjust="spacingAndGlyphs" stroke="#fff" stroke-width="0.35">(Case</text>
<text x="1627.11" y="1207.1" font-size="31" font-family='"Liberation Sans", "Noto Sans CJK KR", sans-serif' textLength="27.18" lengthAdjust="spacingAndGlyphs" stroke="#000" stroke-width="0.3">Ⅱ</text>
<text x="1653.3" y="1207.1" font-size="35" font-family='"Liberation Sans", "Noto Sans CJK KR", sans-serif' textLength="10.26" lengthAdjust="spacingAndGlyphs" stroke="#fff" stroke-width="0.35">)</text>
<text x="1344.74" y="1811.3" font-size="35" font-family='"Liberation Sans", "Noto Sans CJK KR", sans-serif' textLength="30.77" lengthAdjust="spacingAndGlyphs" stroke="#fff" stroke-width="0.35">(f)</text>
<text x="1385.72" y="1811.3" font-size="35" font-family='"Liberation Sans", "Noto Sans CJK KR", sans-serif' textLength="140.59" lengthAdjust="spacingAndGlyphs" stroke="#fff" stroke-width="0.35">Discharge</text>
<text x="1537.57" y="1811.3" font-size="35" font-family='"Liberation Sans", "Noto Sans CJK KR", sans-serif' textLength="76.26" lengthAdjust="spacingAndGlyphs" stroke="#fff" stroke-width="0.35">(Case</text>
<text x="1625.48" y="1811.3" font-size="31" font-family='"Liberation Sans", "Noto Sans CJK KR", sans-serif' textLength="22.64" lengthAdjust="spacingAndGlyphs" stroke="#000" stroke-width="0.3">Ⅲ</text>
<text x="1649.9" y="1811.3" font-size="35" font-family='"Liberation Sans", "Noto Sans CJK KR", sans-serif' textLength="10.14" lengthAdjust="spacingAndGlyphs" stroke="#fff" stroke-width="0.35">)</text>
</svg>
</body></html>
